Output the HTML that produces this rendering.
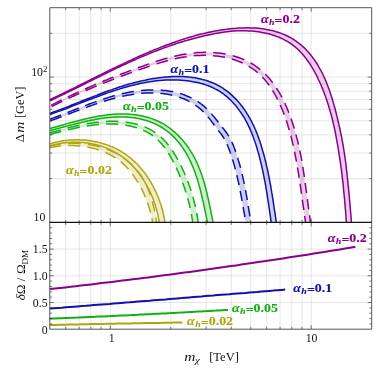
<!DOCTYPE html>
<html><head><meta charset="utf-8"><title>chart</title>
<style>html,body{margin:0;padding:0;background:#fff}svg{display:block;will-change:transform;transform:translateZ(0)}text{font-family:"Liberation Serif",serif}</style></head>
<body>
<svg width="382" height="372" viewBox="0 0 382 372">
<rect width="382" height="372" fill="#fff"/>
<defs><clipPath id="ct"><rect x="49.8" y="7.7" width="321.9" height="214.7"/></clipPath><clipPath id="cb"><rect x="49.8" y="222.4" width="321.9" height="106.8"/></clipPath></defs>
<path d="M65.71,7.7 V329.2 M79.16,7.7 V329.2 M90.81,7.7 V329.2 M101.09,7.7 V329.2 M170.77,7.7 V329.2 M206.15,7.7 V329.2 M231.26,7.7 V329.2 M250.73,7.7 V329.2 M266.64,7.7 V329.2 M280.09,7.7 V329.2 M291.74,7.7 V329.2 M302.02,7.7 V329.2 M110.29,7.7 V329.2 M311.21,7.7 V329.2 M49.8,178.65 H371.7 M49.8,153.05 H371.7 M49.8,134.89 H371.7 M49.8,120.8 H371.7 M49.8,109.3 H371.7 M49.8,99.56 H371.7 M49.8,91.14 H371.7 M49.8,83.7 H371.7 M49.8,77.05 H371.7 M49.8,33.29 H371.7 M49.8,302.5 H371.7 M49.8,275.8 H371.7 M49.8,249.1 H371.7" stroke="#cdcdcd" stroke-width="0.5" fill="none"/>
<g clip-path="url(#ct)" fill="none" stroke-linejoin="round">
<path d="M49.6,146.1L50.5,145.9L51.3,145.7L52.2,145.5L53,145.3L53.9,145.1L54.8,145L55.6,144.8L56.5,144.7L57.4,144.5L58.2,144.4L59.1,144.3L60,144.2L60.9,144L61.8,143.9L62.6,143.8L63.5,143.7L64.4,143.7L65.3,143.6L66.2,143.5L67.1,143.5L68,143.4L68.8,143.4L69.7,143.3L70.6,143.3L71.5,143.3L72.4,143.3L73.3,143.3L74.2,143.3L75.1,143.3L76,143.3L76.9,143.3L77.8,143.4L78.7,143.4L79.6,143.5L80.5,143.5L81.3,143.6L82.2,143.7L83.1,143.7L84,143.8L84.9,143.9L85.8,144L86.7,144.2L87.6,144.3L88.4,144.4L89.3,144.6L90.2,144.7L91.1,144.9L92,145L92.8,145.2L93.7,145.4L94.6,145.6L95.5,145.8L96.3,146L97.2,146.2L98,146.4L98.9,146.7L99.8,146.9L100.6,147.1L101.5,147.4L102.3,147.7L103.2,147.9L104,148.2L104.8,148.5L105.7,148.8L106.5,149.1L107.3,149.4L108.2,149.7L109,150.1L109.8,150.4L110.6,150.7L111.4,151.1L112.2,151.5L113,151.8L113.8,152.2L114.6,152.6L115.4,153L116.2,153.4L117,153.9L117.8,154.3L118.5,154.7L119.3,155.2L120.1,155.6L120.8,156.1L121.6,156.6L122.3,157.1L123,157.6L123.8,158.1L124.5,158.6L125.2,159.1L125.9,159.7L126.6,160.2L127.3,160.8L128,161.3L128.7,161.9L129.4,162.5L130,163.1L130.7,163.7L131.4,164.3L132,164.9L132.6,165.6L133.3,166.2L133.9,166.9L134.5,167.5L135.1,168.2L135.7,168.9L136.3,169.6L136.9,170.3L137.5,171L138,171.7L138.6,172.4L139.2,173.1L139.7,173.8L140.2,174.6L140.8,175.3L141.3,176.1L141.8,176.8L142.3,177.6L142.7,178.4L143.2,179.2L143.7,180L144.1,180.8L144.5,181.6L145,182.4L145.4,183.2L145.8,184L146.2,184.9L146.6,185.7L147,186.5L147.3,187.4L147.7,188.2L148.1,189L148.4,189.9L148.7,190.7L149.1,191.6L149.4,192.4L149.7,193.3L150,194.2L150.3,195L150.6,195.9L150.8,196.8L151.1,197.6L151.4,198.5L151.7,199.4L151.9,200.2L152.2,201.1L152.4,202L152.6,202.8L152.9,203.7L153.1,204.6L153.3,205.5L153.5,206.3L153.8,207.2L154,208.1L154.2,208.9L154.3,209.8L154.5,210.7L154.7,211.5L154.9,212.4L155.1,213.3L155.2,214.1L155.4,215L155.5,215.9L155.7,216.7L155.8,217.6L156,218.4L156.1,219.3L156.2,220.2L156.4,221L156.5,221.9L156.6,222.7L156.8,223.5L156.9,224.4L157,225.2L157.1,226L157.2,226.7L153.3,227.2L153.2,226.4L153.1,225.6L153,224.7L152.9,223.9L152.7,223.1L152.6,222.3L152.5,221.4L152.3,220.6L152.1,219.8L152,219L151.8,218.1L151.6,217.3L151.4,216.5L151.3,215.6L151.1,214.8L150.9,214L150.7,213.1L150.4,212.3L150.2,211.5L150,210.6L149.8,209.8L149.5,209L149.3,208.1L149,207.3L148.8,206.5L148.5,205.7L148.3,204.8L148,204L147.7,203.2L147.4,202.4L147.1,201.5L146.8,200.7L146.5,199.9L146.2,199.1L145.9,198.3L145.6,197.5L145.2,196.7L144.9,195.9L144.6,195.1L144.2,194.3L143.8,193.5L143.5,192.7L143.1,192L142.7,191.2L142.4,190.4L142,189.6L141.6,188.9L141.2,188.1L140.8,187.3L140.4,186.6L140,185.8L139.5,185.1L139.1,184.4L138.7,183.6L138.2,182.9L137.8,182.2L137.3,181.4L136.9,180.7L136.4,180L136,179.3L135.5,178.6L135.1,177.9L134.6,177.2L134.1,176.5L133.7,175.8L133.2,175.1L132.7,174.4L132.2,173.7L131.7,173L131.2,172.4L130.6,171.7L130.1,171.1L129.6,170.4L129,169.8L128.5,169.2L127.9,168.6L127.4,167.9L126.8,167.3L126.2,166.7L125.7,166.1L125.1,165.6L124.5,165L123.9,164.4L123.3,163.9L122.7,163.3L122,162.8L121.4,162.2L120.7,161.7L120.1,161.2L119.4,160.7L118.8,160.2L118.1,159.7L117.4,159.2L116.8,158.8L116.1,158.3L115.4,157.8L114.7,157.4L114,156.9L113.2,156.5L112.5,156.1L111.8,155.7L111.1,155.3L110.3,154.8L109.6,154.5L108.8,154.1L108.1,153.7L107.3,153.3L106.5,153L105.8,152.6L105,152.3L104.2,151.9L103.4,151.6L102.6,151.3L101.9,151L101.1,150.7L100.2,150.4L99.4,150.1L98.6,149.9L97.8,149.6L97,149.3L96.2,149.1L95.3,148.9L94.5,148.6L93.7,148.4L92.8,148.2L92,148L91.2,147.8L90.3,147.6L89.5,147.4L88.6,147.3L87.8,147.1L86.9,147L86.1,146.8L85.2,146.7L84.3,146.5L83.5,146.4L82.6,146.3L81.8,146.2L80.9,146.1L80,146L79.2,145.9L78.3,145.8L77.4,145.8L76.5,145.7L75.7,145.7L74.8,145.6L73.9,145.6L73.1,145.6L72.2,145.5L71.3,145.5L70.4,145.5L69.6,145.5L68.7,145.5L67.8,145.5L66.9,145.6L66.1,145.6L65.2,145.6L64.3,145.7L63.5,145.8L62.6,145.8L61.7,145.9L60.9,146L60,146.1L59.1,146.1L58.3,146.2L57.4,146.4L56.6,146.5L55.7,146.6L54.9,146.7L54,146.9L53.2,147L52.3,147.2L51.5,147.3L50.6,147.5L50,147.6Z" fill="#b0a70c" fill-opacity="0.2" stroke="none"/>
<path d="M49.4,144L50.3,143.7L51.2,143.4L52.1,143.2L53.1,142.9L54,142.7L54.9,142.5L55.8,142.3L56.7,142L57.7,141.8L58.6,141.7L59.5,141.5L60.4,141.3L61.4,141.1L62.3,141L63.2,140.8L64.2,140.7L65.1,140.6L66.1,140.5L67,140.4L67.9,140.3L68.9,140.2L69.8,140.1L70.8,140L71.7,140L72.6,139.9L73.6,139.9L74.5,139.8L75.5,139.8L76.4,139.8L77.4,139.8L78.3,139.8L79.2,139.8L80.2,139.9L81.1,139.9L82.1,139.9L83,140L83.9,140.1L84.9,140.1L85.8,140.2L86.8,140.3L87.7,140.4L88.6,140.5L89.5,140.6L90.5,140.8L91.4,140.9L92.3,141.1L93.2,141.2L94.2,141.4L95.1,141.6L96,141.8L96.9,142L97.8,142.2L98.7,142.4L99.6,142.6L100.5,142.9L101.4,143.1L102.3,143.4L103.2,143.6L104.1,143.9L105,144.2L105.9,144.5L106.8,144.8L107.6,145.1L108.5,145.4L109.4,145.8L110.2,146.1L111.1,146.4L112,146.8L112.8,147.2L113.7,147.6L114.5,148L115.3,148.4L116.2,148.8L117,149.2L117.8,149.6L118.6,150.1L119.5,150.5L120.3,151L121.1,151.4L121.9,151.9L122.6,152.4L123.4,152.9L124.2,153.4L125,153.9L125.7,154.5L126.5,155L127.3,155.6L128,156.1L128.7,156.7L129.5,157.3L130.2,157.8L130.9,158.4L131.6,159L132.3,159.7L133,160.3L133.7,160.9L134.4,161.5L135.1,162.2L135.8,162.8L136.4,163.5L137.1,164.2L137.8,164.8L138.4,165.5L139,166.2L139.7,166.9L140.3,167.6L140.9,168.3L141.5,169.1L142.1,169.8L142.7,170.5L143.3,171.3L143.9,172L144.5,172.8L145.1,173.5L145.6,174.3L146.2,175.1L146.7,175.8L147.3,176.6L147.8,177.4L148.3,178.2L148.8,179L149.3,179.8L149.8,180.6L150.3,181.4L150.8,182.3L151.3,183.1L151.8,183.9L152.3,184.8L152.7,185.6L153.2,186.4L153.6,187.3L154,188.1L154.5,189L154.9,189.8L155.3,190.7L155.7,191.6L156.1,192.4L156.5,193.3L156.9,194.2L157.3,195.1L157.6,196L158,196.8L158.4,197.7L158.7,198.6L159.1,199.5L159.4,200.4L159.7,201.3L160,202.2L160.3,203.1L160.6,204L160.9,204.9L161.2,205.8L161.5,206.7L161.8,207.7L162,208.6L162.3,209.5L162.5,210.4L162.8,211.3L163,212.2L163.2,213.2L163.4,214.1L163.7,215L163.9,215.9L164,216.8L164.2,217.8L164.4,218.7L164.6,219.6L164.7,220.5L164.9,221.4L165,222.4L165.2,223.3L165.3,224.2L165.4,225.1L165.5,226L165.6,226.7L159.9,227.3L159.8,226.5L159.7,225.6L159.6,224.7L159.5,223.9L159.4,223L159.2,222.1L159.1,221.2L158.9,220.4L158.8,219.5L158.6,218.6L158.5,217.7L158.3,216.8L158.1,216L157.9,215.1L157.7,214.2L157.5,213.3L157.3,212.5L157.1,211.6L156.9,210.7L156.6,209.8L156.4,209L156.1,208.1L155.9,207.2L155.6,206.4L155.3,205.5L155.1,204.6L154.8,203.8L154.5,202.9L154.2,202L153.9,201.2L153.6,200.3L153.3,199.5L152.9,198.6L152.6,197.8L152.3,196.9L151.9,196.1L151.6,195.2L151.2,194.4L150.8,193.6L150.4,192.7L150.1,191.9L149.7,191.1L149.3,190.2L148.9,189.4L148.5,188.6L148,187.8L147.6,187L147.2,186.2L146.8,185.4L146.3,184.6L145.9,183.8L145.4,183L144.9,182.2L144.5,181.5L144,180.7L143.5,179.9L143,179.2L142.5,178.4L142,177.7L141.5,176.9L141,176.2L140.5,175.4L139.9,174.7L139.4,174L138.9,173.3L138.3,172.6L137.8,171.9L137.2,171.2L136.6,170.5L136.1,169.8L135.5,169.1L134.9,168.4L134.3,167.7L133.7,167.1L133.1,166.4L132.5,165.8L131.9,165.1L131.2,164.5L130.6,163.9L130,163.3L129.3,162.7L128.7,162.1L128,161.5L127.4,160.9L126.7,160.3L126,159.7L125.3,159.2L124.6,158.6L123.9,158.1L123.2,157.5L122.5,157L121.8,156.5L121.1,156L120.4,155.5L119.6,155L118.9,154.5L118.2,154L117.4,153.5L116.7,153.1L115.9,152.6L115.1,152.2L114.3,151.8L113.6,151.4L112.8,151L112,150.6L111.2,150.2L110.4,149.8L109.6,149.4L108.8,149L107.9,148.7L107.1,148.3L106.3,148L105.5,147.7L104.6,147.4L103.8,147.1L102.9,146.8L102.1,146.5L101.2,146.2L100.4,145.9L99.5,145.7L98.6,145.4L97.8,145.2L96.9,145L96,144.7L95.1,144.5L94.3,144.3L93.4,144.1L92.5,144L91.6,143.8L90.7,143.6L89.8,143.5L88.9,143.3L88,143.2L87.1,143.1L86.2,142.9L85.3,142.8L84.4,142.7L83.5,142.6L82.6,142.6L81.7,142.5L80.8,142.4L79.8,142.4L78.9,142.3L78,142.3L77.1,142.3L76.2,142.3L75.3,142.3L74.3,142.3L73.4,142.3L72.5,142.3L71.6,142.3L70.7,142.4L69.7,142.4L68.8,142.5L67.9,142.6L67,142.6L66.1,142.7L65.2,142.8L64.2,142.9L63.3,143.1L62.4,143.2L61.5,143.3L60.6,143.5L59.7,143.6L58.8,143.8L57.9,144L56.9,144.1L56,144.3L55.1,144.5L54.2,144.8L53.3,145L52.5,145.2L51.6,145.5L50.7,145.7L50,145.9Z" fill="#b0a70c" fill-opacity="0.2" stroke="none"/>
<path d="M49.6,132.9L50.8,132.6L51.9,132.3L53,131.9L54.1,131.6L55.2,131.3L56.4,131L57.5,130.7L58.6,130.4L59.8,130.1L60.9,129.7L62.1,129.4L63.3,129.1L64.4,128.8L65.6,128.5L66.8,128.2L68,127.9L69.1,127.6L70.3,127.3L71.5,127L72.7,126.7L73.9,126.4L75.1,126.2L76.3,125.9L77.5,125.6L78.7,125.4L79.9,125.1L81.1,124.8L82.3,124.6L83.5,124.4L84.8,124.1L86,123.9L87.2,123.7L88.4,123.5L89.6,123.3L90.9,123.1L92.1,122.9L93.3,122.7L94.6,122.5L95.8,122.4L97,122.2L98.3,122.1L99.5,122L100.7,121.8L102,121.7L103.2,121.6L104.4,121.5L105.7,121.5L106.9,121.4L108.1,121.4L109.4,121.3L110.6,121.3L111.8,121.3L113.1,121.3L114.3,121.3L115.5,121.3L116.8,121.4L118,121.4L119.2,121.5L120.5,121.6L121.7,121.7L122.9,121.8L124.2,121.9L125.4,122.1L126.6,122.2L127.8,122.4L129,122.6L130.3,122.8L131.5,123.1L132.7,123.3L133.9,123.6L135.1,123.9L136.3,124.2L137.5,124.5L138.7,124.8L139.8,125.2L141,125.6L142.2,126L143.3,126.4L144.5,126.9L145.6,127.4L146.7,127.8L147.9,128.4L149,128.9L150.1,129.5L151.1,130L152.2,130.7L153.3,131.3L154.3,131.9L155.3,132.6L156.3,133.3L157.3,134.1L158.3,134.8L159.2,135.6L160.2,136.4L161.1,137.2L162,138.1L162.9,138.9L163.8,139.8L164.6,140.7L165.5,141.6L166.3,142.6L167.1,143.5L167.9,144.5L168.7,145.5L169.4,146.5L170.2,147.5L170.9,148.5L171.6,149.5L172.3,150.6L173,151.6L173.7,152.7L174.4,153.8L175,154.9L175.7,155.9L176.3,157L177,158.1L177.6,159.2L178.2,160.4L178.8,161.5L179.4,162.6L179.9,163.7L180.5,164.8L181.1,165.9L181.6,167.1L182.1,168.2L182.7,169.3L183.2,170.4L183.7,171.6L184.2,172.7L184.7,173.8L185.2,175L185.7,176.1L186.1,177.2L186.6,178.4L187.1,179.5L187.5,180.6L187.9,181.8L188.4,182.9L188.8,184.1L189.2,185.2L189.6,186.4L190,187.5L190.4,188.7L190.8,189.8L191.1,191L191.5,192.1L191.9,193.3L192.2,194.5L192.6,195.6L192.9,196.8L193.2,198L193.5,199.2L193.9,200.3L194.2,201.5L194.5,202.7L194.7,203.9L195,205.1L195.3,206.3L195.6,207.5L195.8,208.7L196.1,209.9L196.3,211.1L196.5,212.3L196.8,213.5L197,214.7L197.2,215.9L197.4,217.1L197.6,218.4L197.8,219.6L197.9,220.8L198.1,222.1L198.3,223.3L198.4,224.6L198.6,225.8L198.7,226.8L193.3,227.3L193.2,226.1L193,224.9L192.9,223.7L192.7,222.5L192.6,221.3L192.4,220.1L192.2,218.9L192,217.7L191.8,216.5L191.6,215.3L191.4,214.1L191.2,213L191,211.8L190.7,210.6L190.5,209.5L190.2,208.3L190,207.1L189.7,206L189.4,204.8L189.2,203.7L188.9,202.5L188.6,201.4L188.3,200.3L188,199.1L187.7,198L187.3,196.8L187,195.7L186.7,194.6L186.3,193.5L186,192.3L185.6,191.2L185.2,190.1L184.9,189L184.5,187.8L184.1,186.7L183.7,185.6L183.3,184.5L182.9,183.4L182.4,182.3L182,181.2L181.6,180.1L181.1,179L180.7,177.8L180.2,176.7L179.7,175.6L179.3,174.5L178.8,173.4L178.3,172.3L177.8,171.2L177.3,170.1L176.8,169L176.3,167.9L175.8,166.8L175.3,165.7L174.7,164.6L174.2,163.5L173.6,162.4L173.1,161.3L172.5,160.2L171.9,159.1L171.3,158.1L170.8,157L170.1,156L169.5,154.9L168.9,153.9L168.3,152.9L167.6,151.9L167,150.9L166.3,149.9L165.6,148.9L164.9,148L164.2,147L163.5,146.1L162.7,145.2L162,144.3L161.2,143.4L160.4,142.5L159.7,141.7L158.9,140.9L158,140.1L157.2,139.3L156.4,138.5L155.5,137.8L154.6,137.1L153.7,136.4L152.8,135.7L151.9,135L150.9,134.4L150,133.8L149,133.2L148,132.6L147,132.1L146,131.5L144.9,131L143.9,130.5L142.8,130.1L141.7,129.6L140.7,129.2L139.6,128.7L138.5,128.4L137.4,128L136.2,127.6L135.1,127.3L134,126.9L132.8,126.6L131.7,126.4L130.5,126.1L129.4,125.8L128.2,125.6L127,125.4L125.8,125.2L124.7,125L123.5,124.8L122.3,124.7L121.1,124.5L119.9,124.4L118.7,124.3L117.5,124.2L116.3,124.1L115.1,124.1L113.9,124L112.7,124L111.5,124L110.3,123.9L109.1,123.9L107.9,124L106.7,124L105.5,124L104.3,124.1L103.1,124.2L101.8,124.2L100.6,124.3L99.4,124.4L98.2,124.5L97,124.6L95.8,124.8L94.5,124.9L93.3,125.1L92.1,125.2L90.9,125.4L89.7,125.6L88.5,125.7L87.3,125.9L86.1,126.1L84.8,126.3L83.6,126.5L82.4,126.8L81.2,127L80,127.2L78.8,127.5L77.6,127.7L76.4,127.9L75.2,128.2L74,128.5L72.8,128.7L71.7,129L70.5,129.3L69.3,129.6L68.1,129.8L66.9,130.1L65.8,130.4L64.6,130.7L63.4,131L62.3,131.3L61.1,131.6L60,131.9L58.8,132.2L57.7,132.5L56.5,132.8L55.4,133.1L54.3,133.4L53.2,133.7L52,134L50.9,134.3L50.1,134.5Z" fill="#10b010" fill-opacity="0.2" stroke="none"/>
<path d="M49.6,128.4L50.9,128.1L52.1,127.8L53.3,127.5L54.5,127.1L55.8,126.8L57,126.5L58.3,126.1L59.5,125.8L60.8,125.4L62,125.1L63.3,124.7L64.5,124.4L65.8,124L67.1,123.7L68.4,123.3L69.6,123L70.9,122.6L72.2,122.3L73.5,121.9L74.8,121.6L76.1,121.3L77.4,120.9L78.7,120.6L80,120.3L81.3,119.9L82.6,119.6L83.9,119.3L85.2,119L86.5,118.7L87.9,118.4L89.2,118.1L90.5,117.8L91.8,117.5L93.2,117.2L94.5,116.9L95.8,116.7L97.2,116.4L98.5,116.2L99.8,116L101.2,115.8L102.5,115.5L103.9,115.4L105.2,115.2L106.6,115L107.9,114.8L109.2,114.7L110.6,114.5L112,114.4L113.3,114.3L114.7,114.2L116,114.1L117.4,114.1L118.7,114L120.1,114L121.4,114L122.8,114L124.2,114L125.5,114L126.9,114.1L128.2,114.1L129.6,114.2L130.9,114.3L132.3,114.5L133.6,114.6L135,114.8L136.3,114.9L137.7,115.1L139,115.4L140.3,115.6L141.7,115.9L143,116.1L144.3,116.5L145.6,116.8L146.9,117.1L148.2,117.5L149.5,117.9L150.7,118.3L152,118.7L153.3,119.2L154.5,119.7L155.8,120.2L157,120.7L158.2,121.3L159.4,121.8L160.6,122.4L161.8,123.1L163,123.7L164.1,124.4L165.2,125.1L166.4,125.8L167.5,126.6L168.6,127.3L169.7,128.1L170.7,128.9L171.8,129.8L172.8,130.6L173.9,131.5L174.9,132.4L175.9,133.3L176.9,134.2L177.8,135.1L178.8,136.1L179.7,137.1L180.7,138.1L181.6,139.1L182.5,140.1L183.4,141.1L184.2,142.2L185.1,143.3L185.9,144.3L186.8,145.4L187.6,146.6L188.4,147.7L189.1,148.8L189.9,150L190.7,151.1L191.4,152.3L192.1,153.5L192.8,154.7L193.5,155.9L194.1,157.1L194.8,158.3L195.4,159.6L196,160.8L196.6,162L197.2,163.3L197.8,164.6L198.3,165.8L198.8,167.1L199.4,168.4L199.9,169.7L200.4,171L200.8,172.3L201.3,173.6L201.8,174.9L202.2,176.2L202.6,177.5L203,178.8L203.4,180.2L203.8,181.5L204.2,182.8L204.6,184.1L204.9,185.5L205.3,186.8L205.7,188.1L206,189.5L206.3,190.8L206.7,192.1L207,193.4L207.3,194.8L207.6,196.1L207.9,197.4L208.2,198.7L208.5,200.1L208.8,201.4L209.1,202.7L209.3,204L209.6,205.3L209.9,206.6L210.1,207.9L210.4,209.2L210.7,210.5L210.9,211.7L211.2,213L211.4,214.3L211.7,215.5L211.9,216.8L212.2,218L212.5,219.3L212.7,220.5L213,221.7L213.2,222.9L213.5,224.1L213.7,225.3L213.9,226.2L208.6,227.4L208.3,226.2L208,225L207.8,223.8L207.5,222.6L207.3,221.3L207,220.1L206.7,218.8L206.5,217.6L206.2,216.3L205.9,215.1L205.7,213.8L205.4,212.5L205.2,211.3L204.9,210L204.6,208.7L204.3,207.4L204.1,206.1L203.8,204.8L203.5,203.5L203.2,202.2L203,200.9L202.7,199.6L202.4,198.3L202.1,197L201.8,195.7L201.5,194.4L201.1,193.1L200.8,191.8L200.5,190.5L200.2,189.2L199.8,187.9L199.5,186.6L199.1,185.3L198.7,184L198.4,182.7L198,181.5L197.6,180.2L197.2,178.9L196.8,177.6L196.3,176.4L195.9,175.1L195.5,173.8L195,172.6L194.6,171.3L194.1,170.1L193.6,168.8L193.1,167.6L192.6,166.4L192.1,165.2L191.6,164L191.1,162.7L190.5,161.5L190,160.4L189.4,159.2L188.8,158L188.2,156.8L187.6,155.7L186.9,154.5L186.3,153.4L185.6,152.3L184.9,151.2L184.2,150.1L183.5,149L182.8,147.9L182,146.8L181.3,145.8L180.5,144.7L179.7,143.7L178.9,142.7L178.1,141.7L177.2,140.7L176.4,139.7L175.5,138.8L174.6,137.9L173.7,136.9L172.8,136L171.9,135.2L170.9,134.3L170,133.5L169,132.6L168,131.8L167,131.1L166,130.3L165,129.6L164,128.8L162.9,128.1L161.9,127.5L160.8,126.8L159.7,126.2L158.6,125.6L157.5,125L156.3,124.4L155.2,123.9L154,123.3L152.9,122.8L151.7,122.4L150.5,121.9L149.3,121.5L148.1,121.1L146.9,120.7L145.7,120.3L144.4,120L143.2,119.6L141.9,119.3L140.6,119L139.4,118.8L138.1,118.5L136.8,118.3L135.5,118.1L134.2,117.9L132.9,117.7L131.6,117.6L130.3,117.4L129,117.3L127.7,117.2L126.4,117.1L125.1,117.1L123.8,117L122.4,117L121.1,117L119.8,117L118.5,117L117.1,117L115.8,117.1L114.5,117.1L113.2,117.2L111.8,117.3L110.5,117.4L109.2,117.5L107.9,117.7L106.6,117.8L105.2,118L103.9,118.1L102.6,118.3L101.3,118.5L99.9,118.7L98.6,118.9L97.3,119.1L96,119.4L94.7,119.6L93.3,119.9L92,120.1L90.7,120.4L89.4,120.6L88.1,120.9L86.8,121.2L85.5,121.5L84.2,121.8L82.9,122.1L81.6,122.4L80.3,122.7L79,123L77.7,123.4L76.4,123.7L75.1,124L73.8,124.4L72.5,124.7L71.2,125L69.9,125.4L68.7,125.7L67.4,126L66.1,126.4L64.8,126.7L63.6,127.1L62.3,127.4L61,127.7L59.8,128.1L58.5,128.4L57.3,128.7L56,129.1L54.8,129.4L53.6,129.7L52.3,130L51.1,130.3L50.2,130.6Z" fill="#10b010" fill-opacity="0.2" stroke="none"/>
<path d="M49.6,119.3L51.1,118.7L52.6,118.2L54.1,117.6L55.7,117L57.2,116.5L58.7,115.9L60.3,115.3L61.8,114.7L63.3,114.1L64.9,113.5L66.4,112.9L68,112.3L69.5,111.7L71.1,111.1L72.7,110.5L74.2,109.9L75.8,109.2L77.3,108.6L78.9,108L80.5,107.4L82.1,106.8L83.6,106.2L85.2,105.6L86.8,105L88.4,104.4L89.9,103.8L91.5,103.2L93.1,102.6L94.7,102.1L96.3,101.5L97.9,100.9L99.5,100.4L101.1,99.8L102.7,99.3L104.3,98.8L105.9,98.2L107.6,97.7L109.2,97.2L110.8,96.8L112.4,96.3L114,95.8L115.7,95.4L117.3,94.9L118.9,94.5L120.6,94.1L122.2,93.7L123.8,93.3L125.5,93L127.1,92.6L128.8,92.3L130.4,92L132.1,91.7L133.8,91.4L135.4,91.2L137.1,91L138.8,90.8L140.4,90.6L142.1,90.4L143.8,90.3L145.5,90.1L147.2,90L148.8,90L150.5,89.9L152.2,89.9L153.9,89.9L155.6,89.9L157.3,90L159,90L160.7,90.1L162.4,90.3L164.1,90.4L165.8,90.6L167.5,90.8L169.1,91.1L170.8,91.4L172.5,91.7L174.1,92L175.8,92.4L177.4,92.8L179.1,93.3L180.7,93.7L182.3,94.3L183.9,94.8L185.5,95.4L187.1,96L188.6,96.7L190.2,97.4L191.7,98.1L193.2,98.9L194.7,99.7L196.1,100.6L197.6,101.5L199,102.5L200.4,103.4L201.8,104.5L203.2,105.6L204.5,106.7L205.8,107.9L207.1,109.1L208.3,110.3L209.5,111.6L210.7,112.9L211.9,114.2L213,115.6L214.1,116.9L215.2,118.3L216.3,119.6L217.4,121L218.5,122.4L219.5,123.7L220.5,125L221.6,126.4L222.6,127.6L223.6,128.9L224.7,130.2L225.7,131.6L226.7,132.9L227.6,134.4L228.5,135.8L229.4,137.3L230.2,138.8L231,140.3L231.8,141.9L232.5,143.4L233.1,145L233.8,146.6L234.4,148.2L235,149.8L235.6,151.4L236.1,153L236.6,154.6L237.2,156.2L237.7,157.8L238.2,159.5L238.7,161.1L239.1,162.7L239.6,164.3L240,166L240.5,167.6L240.9,169.3L241.3,170.9L241.7,172.6L242.1,174.2L242.5,175.9L242.9,177.5L243.3,179.2L243.6,180.8L244,182.5L244.3,184.1L244.7,185.8L245,187.5L245.3,189.1L245.6,190.8L245.9,192.4L246.2,194.1L246.5,195.8L246.8,197.4L247.1,199.1L247.4,200.7L247.7,202.4L247.9,204L248.2,205.7L248.5,207.3L248.7,209L249,210.6L249.3,212.3L249.5,213.9L249.8,215.6L250,217.2L250.3,218.8L250.5,220.5L250.8,222.1L251,223.7L251.3,225.3L251.5,226.6L246.6,227.4L246.3,225.7L246,224.1L245.8,222.5L245.5,220.9L245.2,219.2L244.9,217.6L244.7,216L244.4,214.3L244.1,212.7L243.8,211.1L243.6,209.4L243.3,207.8L243,206.1L242.7,204.5L242.4,202.9L242.1,201.2L241.8,199.6L241.5,197.9L241.2,196.3L240.9,194.6L240.6,193L240.3,191.4L240,189.7L239.7,188.1L239.3,186.5L239,184.8L238.6,183.2L238.3,181.6L237.9,179.9L237.6,178.3L237.2,176.7L236.8,175.1L236.4,173.4L236,171.8L235.6,170.2L235.2,168.6L234.7,167L234.3,165.4L233.8,163.8L233.4,162.2L232.9,160.6L232.4,159L231.9,157.5L231.4,155.9L230.9,154.3L230.3,152.8L229.8,151.2L229.2,149.7L228.6,148.1L228,146.6L227.4,145.2L226.8,143.7L226.1,142.3L225.4,140.9L224.6,139.5L223.9,138.2L223,136.9L222.2,135.6L221.3,134.3L220.3,133L219.3,131.8L218.3,130.5L217.3,129.1L216.3,127.8L215.3,126.4L214.2,125L213.2,123.7L212.2,122.3L211.2,120.9L210.1,119.6L209,118.3L208,116.9L206.9,115.7L205.8,114.4L204.7,113.2L203.5,112L202.4,110.9L201.2,109.7L200,108.7L198.8,107.7L197.5,106.7L196.2,105.7L194.9,104.8L193.6,103.9L192.2,103.1L190.9,102.3L189.5,101.5L188,100.8L186.6,100.1L185.2,99.5L183.7,98.8L182.2,98.2L180.7,97.7L179.2,97.2L177.6,96.7L176.1,96.2L174.5,95.8L173,95.4L171.4,95L169.8,94.7L168.2,94.4L166.6,94.1L164.9,93.9L163.3,93.6L161.7,93.5L160,93.3L158.4,93.2L156.8,93.1L155.1,93L153.5,92.9L151.8,92.9L150.2,92.9L148.5,92.9L146.9,93L145.2,93.1L143.6,93.2L141.9,93.3L140.3,93.4L138.7,93.6L137,93.8L135.4,94L133.8,94.2L132.1,94.5L130.5,94.7L128.9,95L127.2,95.3L125.6,95.6L124,96L122.4,96.3L120.7,96.7L119.1,97L117.5,97.4L115.9,97.9L114.3,98.3L112.7,98.7L111.1,99.2L109.4,99.6L107.8,100.1L106.2,100.6L104.6,101.1L103,101.6L101.4,102.1L99.8,102.6L98.2,103.2L96.6,103.7L95,104.2L93.4,104.8L91.9,105.4L90.3,105.9L88.7,106.5L87.1,107.1L85.5,107.7L83.9,108.2L82.4,108.8L80.8,109.4L79.2,110L77.7,110.6L76.1,111.2L74.5,111.8L73,112.4L71.4,113L69.8,113.6L68.3,114.2L66.7,114.8L65.2,115.4L63.6,115.9L62.1,116.5L60.5,117.1L59,117.7L57.4,118.2L55.9,118.8L54.3,119.4L52.8,119.9L51.3,120.5L50.1,120.9Z" fill="#1010aa" fill-opacity="0.2" stroke="none"/>
<path d="M49.6,113.4L51.4,112.8L53.1,112.2L54.9,111.5L56.6,110.9L58.4,110.3L60.1,109.6L61.9,108.9L63.6,108.3L65.4,107.6L67.1,106.9L68.9,106.2L70.6,105.5L72.4,104.8L74.1,104.1L75.9,103.4L77.6,102.7L79.4,102L81.2,101.3L82.9,100.6L84.7,99.9L86.5,99.2L88.2,98.5L90,97.8L91.8,97.1L93.6,96.4L95.3,95.7L97.1,95.1L98.9,94.4L100.7,93.7L102.5,93L104.3,92.3L106,91.7L107.8,91L109.6,90.4L111.4,89.7L113.2,89.1L115,88.5L116.9,87.9L118.7,87.3L120.5,86.7L122.3,86.1L124.1,85.5L126,85L127.8,84.5L129.6,83.9L131.4,83.4L133.3,82.9L135.1,82.4L137,82L138.8,81.5L140.7,81.1L142.5,80.7L144.4,80.3L146.3,79.9L148.1,79.5L150,79.2L151.9,78.8L153.8,78.5L155.7,78.2L157.6,78L159.5,77.7L161.4,77.5L163.3,77.3L165.2,77.1L167.1,76.9L169,76.8L171,76.7L172.9,76.6L174.8,76.5L176.8,76.5L178.7,76.5L180.7,76.5L182.6,76.6L184.6,76.7L186.5,76.8L188.4,77L190.4,77.2L192.3,77.4L194.2,77.7L196.1,78L198,78.4L199.9,78.8L201.8,79.2L203.7,79.7L205.5,80.3L207.3,80.8L209.1,81.5L210.9,82.1L212.7,82.8L214.5,83.6L216.2,84.4L217.9,85.3L219.6,86.2L221.2,87.2L222.9,88.2L224.4,89.3L226,90.4L227.5,91.5L229,92.7L230.5,94L231.9,95.2L233.3,96.6L234.7,97.9L236.1,99.3L237.4,100.7L238.7,102.2L239.9,103.7L241.1,105.2L242.3,106.7L243.5,108.3L244.6,109.9L245.7,111.5L246.8,113.2L247.8,114.8L248.8,116.5L249.8,118.2L250.7,119.9L251.6,121.7L252.5,123.4L253.4,125.2L254.2,126.9L255,128.7L255.8,130.5L256.5,132.3L257.2,134.1L257.9,135.9L258.6,137.8L259.2,139.6L259.9,141.4L260.5,143.3L261,145.1L261.6,147L262.2,148.8L262.7,150.7L263.2,152.5L263.7,154.4L264.2,156.2L264.7,158.1L265.2,159.9L265.6,161.8L266.1,163.6L266.5,165.5L266.9,167.3L267.4,169.2L267.8,171L268.2,172.9L268.5,174.7L268.9,176.6L269.3,178.4L269.6,180.3L270,182.2L270.3,184L270.7,185.9L271,187.7L271.3,189.6L271.6,191.5L271.9,193.3L272.2,195.2L272.5,197.1L272.8,198.9L273.1,200.8L273.4,202.7L273.7,204.5L274,206.4L274.2,208.3L274.5,210.2L274.8,212L275.1,213.9L275.3,215.8L275.6,217.7L275.9,219.6L276.1,221.4L276.4,223.3L276.7,225.2L276.9,226.6L271.9,227.4L271.7,225.5L271.4,223.6L271.1,221.7L270.9,219.8L270.6,217.9L270.3,216L270,214.2L269.8,212.3L269.5,210.4L269.2,208.5L269,206.7L268.7,204.8L268.4,202.9L268.1,201.1L267.8,199.2L267.5,197.4L267.3,195.5L267,193.7L266.7,191.8L266.3,190L266,188.1L265.7,186.3L265.4,184.4L265.1,182.6L264.7,180.7L264.4,178.9L264,177.1L263.6,175.2L263.3,173.4L262.9,171.6L262.5,169.7L262.1,167.9L261.7,166.1L261.3,164.3L260.8,162.4L260.4,160.6L259.9,158.8L259.4,157L259,155.2L258.5,153.3L258,151.5L257.4,149.7L256.9,147.9L256.3,146.1L255.8,144.3L255.2,142.5L254.6,140.7L253.9,138.9L253.3,137.1L252.6,135.4L251.9,133.6L251.2,131.9L250.5,130.2L249.7,128.4L248.9,126.7L248.1,125L247.3,123.4L246.4,121.7L245.5,120.1L244.6,118.4L243.6,116.8L242.6,115.2L241.6,113.7L240.6,112.1L239.5,110.6L238.4,109.1L237.3,107.6L236.1,106.2L234.9,104.8L233.7,103.4L232.4,102.1L231.2,100.8L229.9,99.5L228.6,98.2L227.2,97L225.8,95.9L224.4,94.8L223,93.7L221.5,92.7L220.1,91.7L218.5,90.7L217,89.8L215.4,89L213.9,88.2L212.2,87.4L210.6,86.7L208.9,86L207.2,85.4L205.5,84.8L203.8,84.2L202.1,83.7L200.3,83.2L198.5,82.8L196.7,82.4L194.9,82L193.1,81.7L191.2,81.4L189.4,81.1L187.5,80.8L185.7,80.6L183.8,80.4L181.9,80.3L180,80.2L178.1,80.1L176.3,80L174.4,79.9L172.5,79.9L170.6,79.9L168.7,80L166.8,80L164.9,80.1L163,80.2L161.2,80.4L159.3,80.5L157.4,80.7L155.6,80.9L153.7,81.2L151.8,81.4L150,81.7L148.1,82L146.3,82.3L144.4,82.7L142.6,83L140.7,83.4L138.9,83.8L137,84.2L135.2,84.7L133.4,85.1L131.5,85.6L129.7,86.1L127.9,86.5L126.1,87.1L124.2,87.6L122.4,88.1L120.6,88.6L118.8,89.2L117,89.8L115.2,90.4L113.4,90.9L111.6,91.5L109.7,92.1L107.9,92.8L106.2,93.4L104.4,94L102.6,94.7L100.8,95.3L99,96L97.2,96.6L95.4,97.3L93.6,98L91.8,98.6L90.1,99.3L88.3,100L86.5,100.7L84.7,101.3L83,102L81.2,102.7L79.4,103.4L77.7,104.1L75.9,104.8L74.1,105.5L72.4,106.1L70.6,106.8L68.8,107.5L67.1,108.2L65.3,108.8L63.6,109.5L61.8,110.2L60.1,110.8L58.3,111.5L56.6,112.1L54.8,112.7L53.1,113.4L51.3,114L50,114.5Z" fill="#1010aa" fill-opacity="0.2" stroke="none"/>
<path d="M49.5,106.2L51.5,105.1L53.5,104.1L55.5,103.1L57.5,102L59.5,101L61.5,100L63.5,99L65.5,98.1L67.5,97.1L69.5,96.1L71.6,95.2L73.6,94.2L75.6,93.3L77.6,92.3L79.7,91.4L81.7,90.5L83.7,89.6L85.8,88.7L87.8,87.8L89.9,86.9L91.9,86L93.9,85.1L96,84.2L98,83.4L100.1,82.5L102.2,81.7L104.2,80.8L106.3,80L108.3,79.1L110.4,78.3L112.5,77.5L114.5,76.7L116.6,75.9L118.7,75L120.8,74.2L122.8,73.4L124.9,72.7L127,71.9L129.1,71.1L131.2,70.3L133.3,69.5L135.4,68.8L137.5,68L139.6,67.2L141.7,66.5L143.8,65.7L145.9,65L148,64.2L150.1,63.5L152.2,62.8L154.4,62L156.5,61.3L158.6,60.7L160.8,60L162.9,59.3L165.1,58.7L167.2,58.1L169.4,57.5L171.6,56.9L173.8,56.4L175.9,55.9L178.1,55.4L180.4,54.9L182.6,54.5L184.8,54.1L187,53.8L189.3,53.4L191.5,53.2L193.8,52.9L196.1,52.7L198.3,52.5L200.6,52.4L202.9,52.3L205.2,52.3L207.5,52.3L209.8,52.4L212.1,52.5L214.4,52.6L216.6,52.8L218.9,53.1L221.2,53.4L223.4,53.7L225.7,54.1L227.9,54.5L230.1,55L232.3,55.6L234.5,56.2L236.6,56.9L238.7,57.6L240.8,58.4L242.9,59.2L245,60.1L247,61L249,62.1L251,63.1L252.9,64.3L254.8,65.5L256.6,66.8L258.4,68.1L260.2,69.5L261.9,71L263.6,72.5L265.3,74.1L266.9,75.7L268.4,77.4L269.9,79.2L271.3,81L272.8,82.8L274.1,84.7L275.4,86.6L276.7,88.5L278,90.4L279.1,92.4L280.3,94.4L281.4,96.4L282.5,98.5L283.5,100.5L284.5,102.6L285.5,104.7L286.4,106.8L287.3,108.9L288.2,111L289,113.1L289.8,115.2L290.6,117.4L291.3,119.5L292.1,121.7L292.8,123.8L293.5,126L294.1,128.1L294.8,130.3L295.4,132.5L296,134.6L296.6,136.8L297.1,139L297.7,141.1L298.2,143.3L298.7,145.5L299.2,147.7L299.6,149.9L300.1,152.1L300.5,154.3L301,156.5L301.4,158.7L301.8,160.9L302.1,163.1L302.5,165.3L302.9,167.5L303.2,169.7L303.6,171.9L303.9,174.1L304.2,176.3L304.5,178.5L304.9,180.7L305.2,182.9L305.5,185.1L305.8,187.4L306.1,189.6L306.4,191.8L306.7,194L306.9,196.2L307.2,198.4L307.5,200.6L307.8,202.9L308.1,205.1L308.4,207.3L308.7,209.5L309,211.7L309.3,213.9L309.6,216.1L309.9,218.3L310.3,220.6L310.6,222.8L310.9,225L311.2,226.6L306.4,227.4L306,225.2L305.7,222.9L305.3,220.7L305,218.5L304.7,216.3L304.3,214.1L304,211.8L303.7,209.6L303.4,207.4L303.1,205.2L302.8,203L302.5,200.8L302.2,198.5L301.9,196.3L301.6,194.1L301.2,191.9L300.9,189.7L300.6,187.5L300.3,185.3L300,183.1L299.6,180.9L299.3,178.7L299,176.5L298.6,174.3L298.3,172.2L297.9,170L297.5,167.8L297.2,165.6L296.8,163.4L296.4,161.3L296,159.1L295.6,156.9L295.1,154.8L294.7,152.6L294.3,150.5L293.8,148.3L293.3,146.1L292.8,144L292.3,141.9L291.8,139.7L291.3,137.6L290.7,135.4L290.2,133.3L289.6,131.2L289,129.1L288.3,127L287.7,124.8L287,122.7L286.3,120.6L285.6,118.5L284.9,116.4L284.1,114.4L283.3,112.3L282.5,110.2L281.7,108.2L280.8,106.1L279.9,104.1L278.9,102.1L278,100.1L277,98.1L275.9,96.2L274.9,94.3L273.7,92.3L272.6,90.5L271.4,88.6L270.1,86.8L268.9,85L267.6,83.2L266.2,81.5L264.8,79.8L263.4,78.2L261.9,76.6L260.4,75.1L258.8,73.7L257.2,72.3L255.6,70.9L253.9,69.6L252.2,68.4L250.4,67.3L248.6,66.2L246.7,65.1L244.9,64.1L242.9,63.2L241,62.3L239,61.5L237,60.7L235,60L232.9,59.4L230.9,58.7L228.7,58.2L226.6,57.7L224.5,57.2L222.3,56.8L220.2,56.5L218,56.2L215.8,55.9L213.6,55.7L211.3,55.5L209.1,55.4L206.9,55.3L204.7,55.3L202.4,55.3L200.2,55.4L198,55.5L195.7,55.6L193.5,55.8L191.3,56L189.1,56.3L186.9,56.6L184.7,56.9L182.5,57.3L180.3,57.7L178.1,58.1L176,58.6L173.8,59.1L171.7,59.6L169.5,60.2L167.4,60.7L165.2,61.3L163.1,61.9L161,62.5L158.8,63.2L156.7,63.9L154.6,64.5L152.5,65.2L150.3,65.9L148.2,66.6L146.1,67.4L144,68.1L141.9,68.8L139.8,69.6L137.7,70.3L135.6,71.1L133.5,71.8L131.4,72.6L129.3,73.3L127.2,74.1L125.2,74.9L123.1,75.6L121,76.4L118.9,77.2L116.8,78L114.8,78.8L112.7,79.6L110.6,80.4L108.6,81.2L106.5,82L104.4,82.8L102.4,83.7L100.3,84.5L98.3,85.3L96.2,86.2L94.1,87L92.1,87.9L90.1,88.8L88,89.6L86,90.5L83.9,91.4L81.9,92.3L79.9,93.2L77.8,94.1L75.8,95L73.8,95.9L71.7,96.9L69.7,97.8L67.7,98.8L65.7,99.7L63.7,100.7L61.7,101.6L59.6,102.6L57.6,103.6L55.6,104.6L53.6,105.6L51.6,106.6L50.1,107.4Z" fill="#8b008b" fill-opacity="0.2" stroke="none"/>
<path d="M49.5,99.8L51.9,98.7L54.3,97.6L56.7,96.4L59,95.3L61.4,94.2L63.8,93L66.1,91.8L68.5,90.7L70.9,89.5L73.2,88.4L75.6,87.2L77.9,86L80.3,84.9L82.6,83.7L85,82.5L87.3,81.3L89.7,80.2L92,79L94.4,77.8L96.7,76.6L99.1,75.5L101.4,74.3L103.8,73.1L106.2,72L108.5,70.8L110.9,69.7L113.2,68.5L115.6,67.4L117.9,66.2L120.3,65.1L122.7,64L125,62.8L127.4,61.7L129.8,60.6L132.2,59.5L134.5,58.4L136.9,57.3L139.3,56.3L141.7,55.2L144.1,54.2L146.5,53.1L148.9,52.1L151.3,51.1L153.7,50.1L156.2,49.1L158.6,48.1L161,47.2L163.5,46.2L165.9,45.3L168.4,44.4L170.8,43.5L173.3,42.6L175.8,41.7L178.3,40.9L180.7,40L183.2,39.2L185.8,38.4L188.3,37.7L190.8,36.9L193.3,36.2L195.9,35.5L198.4,34.8L201,34.1L203.6,33.5L206.2,32.9L208.8,32.3L211.4,31.8L214,31.3L216.6,30.8L219.3,30.3L221.9,29.9L224.5,29.5L227.2,29.2L229.8,28.9L232.5,28.6L235.2,28.4L237.8,28.2L240.5,28L243.1,27.9L245.8,27.8L248.4,27.8L251.1,27.9L253.8,28L256.4,28.1L259.1,28.4L261.7,28.7L264.4,29L267,29.5L269.6,30L272.2,30.6L274.8,31.3L277.4,32.1L280,32.9L282.5,33.9L285,34.9L287.4,36L289.8,37.3L292.1,38.6L294.4,40L296.6,41.5L298.7,43.1L300.8,44.8L302.8,46.5L304.7,48.3L306.6,50.3L308.4,52.2L310.1,54.3L311.8,56.4L313.4,58.5L315,60.8L316.5,63L317.9,65.3L319.3,67.7L320.6,70L321.9,72.5L323.1,74.9L324.3,77.4L325.4,79.8L326.4,82.3L327.4,84.9L328.4,87.4L329.3,89.9L330.2,92.5L331,95L331.8,97.6L332.6,100.1L333.3,102.7L334.1,105.3L334.8,107.8L335.4,110.4L336.1,113L336.7,115.5L337.4,118.1L338,120.7L338.6,123.2L339.2,125.8L339.8,128.4L340.3,130.9L340.8,133.5L341.4,136.1L341.9,138.7L342.4,141.3L342.8,143.8L343.3,146.4L343.7,149L344.1,151.6L344.5,154.2L344.9,156.8L345.3,159.4L345.6,162L345.9,164.6L346.2,167.2L346.5,169.8L346.8,172.4L347.1,175L347.4,177.6L347.7,180.3L348,182.9L348.2,185.5L348.5,188.1L348.7,190.7L349,193.3L349.2,196L349.5,198.6L349.7,201.2L349.9,203.8L350.2,206.4L350.4,209.1L350.6,211.7L350.8,214.3L351,217L351.2,219.6L351.4,222.2L351.6,224.9L351.8,226.8L346.8,227.2L346.6,224.6L346.4,222L346.2,219.3L346,216.7L345.8,214.1L345.6,211.5L345.3,208.8L345.1,206.2L344.9,203.6L344.7,201L344.4,198.4L344.2,195.8L344,193.2L343.7,190.5L343.5,187.9L343.2,185.3L342.9,182.7L342.6,180.1L342.3,177.6L342,175L341.7,172.4L341.4,169.8L341,167.2L340.6,164.6L340.3,162.1L339.9,159.5L339.5,156.9L339.1,154.4L338.7,151.8L338.3,149.2L337.9,146.7L337.4,144.1L337,141.6L336.5,139L336,136.5L335.6,133.9L335,131.4L334.5,128.8L334,126.3L333.4,123.8L332.8,121.2L332.2,118.7L331.5,116.2L330.8,113.7L330.1,111.2L329.4,108.7L328.6,106.2L327.9,103.7L327.1,101.2L326.2,98.7L325.4,96.2L324.5,93.8L323.5,91.4L322.6,88.9L321.6,86.5L320.5,84.1L319.5,81.7L318.4,79.4L317.2,77L316.1,74.7L314.9,72.4L313.6,70.1L312.3,67.9L311,65.7L309.6,63.6L308.2,61.5L306.7,59.4L305.2,57.5L303.6,55.5L302,53.6L300.3,51.8L298.6,50.1L296.8,48.4L294.9,46.8L293,45.3L291,43.8L289,42.5L286.9,41.2L284.7,40L282.4,38.9L280.1,37.8L277.8,36.9L275.4,36L273,35.2L270.5,34.5L268.1,33.8L265.6,33.2L263.1,32.7L260.5,32.2L258,31.8L255.4,31.5L252.9,31.2L250.3,31L247.7,30.8L245.1,30.7L242.5,30.7L239.9,30.7L237.3,30.8L234.7,31L232.1,31.2L229.5,31.4L226.8,31.7L224.2,32.1L221.6,32.5L219,32.9L216.4,33.4L213.8,33.9L211.2,34.4L208.6,34.9L206.1,35.5L203.5,36.1L201,36.7L198.4,37.3L195.9,38L193.3,38.6L190.8,39.3L188.3,40L185.8,40.8L183.3,41.5L180.8,42.3L178.3,43L175.8,43.8L173.3,44.7L170.8,45.5L168.4,46.4L165.9,47.2L163.5,48.1L161,49L158.6,50L156.2,50.9L153.7,51.9L151.3,52.8L148.9,53.8L146.5,54.8L144.1,55.8L141.7,56.8L139.3,57.9L136.9,58.9L134.5,60L132.1,61L129.7,62.1L127.4,63.2L125,64.3L122.6,65.4L120.2,66.5L117.9,67.6L115.5,68.7L113.1,69.9L110.8,71L108.4,72.1L106.1,73.3L103.7,74.5L101.4,75.6L99,76.8L96.7,77.9L94.3,79.1L92,80.3L89.6,81.5L87.2,82.6L84.9,83.8L82.5,85L80.2,86.1L77.8,87.3L75.5,88.5L73.1,89.6L70.8,90.8L68.4,92L66,93.1L63.7,94.3L61.3,95.4L58.9,96.6L56.5,97.7L54.2,98.8L51.8,100L50,100.8Z" fill="#8b008b" fill-opacity="0.2" stroke="none"/>
<path d="M49.6,146.1L49.9,146L50.5,145.9L51.1,145.7L51.8,145.6L52.4,145.4L53,145.3L53.7,145.2L54.3,145.1L55,144.9L55.6,144.8L56.3,144.7L56.9,144.6L57.6,144.5L58.2,144.4L58.9,144.3L59.6,144.2L60.2,144.1L60.9,144L60.9,144 M68.1,143.4L68.2,143.4L68.8,143.4L69.5,143.3L70.2,143.3L70.8,143.3L71.5,143.3L72.2,143.3L72.9,143.3L73.5,143.3L74.2,143.3L74.9,143.3L75.5,143.3L76.2,143.3L76.9,143.3L77.6,143.4L78.2,143.4L78.9,143.4L79.6,143.5L80.2,143.5L80.6,143.5 M87.8,144.3L87.8,144.3L88.4,144.4L89.1,144.5L89.8,144.6L90.4,144.8L91.1,144.9L91.7,145L92.4,145.1L93.1,145.3L93.7,145.4L94.4,145.5L95,145.7L95.7,145.8L96.3,146L97,146.1L97.6,146.3L98.3,146.5L98.9,146.7L99.5,146.8L99.9,146.9 M106.7,149.2L106.7,149.2L107.3,149.4L108,149.6L108.6,149.9L109.2,150.1L109.8,150.4L110.4,150.7L111,150.9L111.6,151.2L112.2,151.5L112.8,151.7L113.4,152L114,152.3L114.6,152.6L115.2,152.9L115.8,153.2L116.4,153.5L117,153.9L117.6,154.2L117.7,154.2 M123.6,157.9L123.6,158L124.1,158.3L124.7,158.7L125.2,159.1L125.7,159.5L126.3,159.9L126.8,160.3L127.3,160.8L127.8,161.2L128.4,161.6L128.9,162.1L129.4,162.5L129.9,162.9L130.4,163.4L130.9,163.9L131.4,164.3L131.8,164.8L132.3,165.3L132.5,165.4 M137,170.4L137,170.4L137.5,171L137.9,171.5L138.3,172L138.7,172.6L139.2,173.1L139.6,173.7L140,174.2L140.4,174.8L140.8,175.3L141.2,175.9L141.5,176.5L141.9,177L142.3,177.6L142.6,178.2L143,178.8L143.3,179.4L143.4,179.6 M146.4,185.3L146.4,185.3L146.7,185.9L147,186.5L147.2,187.1L147.5,187.8L147.8,188.4L148.1,189L148.3,189.7L148.6,190.3L148.8,190.9L149.1,191.6L149.3,192.2L149.5,192.9L149.8,193.5L150,194.2L150.2,194.8L150.4,195.3 M152.2,201.3L152.2,201.3L152.4,202L152.6,202.6L152.8,203.3L152.9,203.9L153.1,204.6L153.3,205.2L153.4,205.9L153.6,206.5L153.8,207.2L153.9,207.8L154.1,208.5L154.2,209.2L154.3,209.8L154.5,210.5L154.6,211.1L154.7,211.5 M155.8,217.5L155.8,217.6L155.9,218.2L156,218.9L156.1,219.5L156.2,220.2L156.3,220.8L156.4,221.4L156.5,222.1L156.6,222.7L156.7,223.3L156.8,224L156.9,224.6L157,225.2L157.1,225.8L157.2,226.5L157.2,226.7" stroke="#b0a70c" stroke-width="1.5"/>
<path d="M50,147.6L50.2,147.6L50.8,147.4L51.5,147.3L52.1,147.2L52.7,147.1L53.4,147L54,146.9L54.6,146.8L55.3,146.7L55.9,146.6L56.6,146.5L57.2,146.4L57.8,146.3L58.5,146.2L59.1,146.1L59.8,146.1L60.4,146L61.1,145.9L61.1,145.9 M68.2,145.5L68.3,145.5L68.9,145.5L69.6,145.5L70.2,145.5L70.9,145.5L71.5,145.5L72.2,145.5L72.8,145.6L73.5,145.6L74.1,145.6L74.8,145.6L75.5,145.7L76.1,145.7L76.8,145.7L77.4,145.8L78.1,145.8L78.7,145.9L79.4,145.9L80,146L80.3,146 M87.3,147L87.3,147L88,147.1L88.6,147.3L89.3,147.4L89.9,147.5L90.5,147.7L91.2,147.8L91.8,147.9L92.4,148.1L93.1,148.3L93.7,148.4L94.3,148.6L94.9,148.7L95.6,148.9L96.2,149.1L96.8,149.3L97.4,149.5L98,149.7L98.6,149.9L98.9,150 M105.4,152.4L105.4,152.4L106,152.7L106.5,153L107.1,153.2L107.7,153.5L108.3,153.8L108.8,154.1L109.4,154.4L110,154.7L110.5,154.9L111.1,155.3L111.6,155.6L112.2,155.9L112.7,156.2L113.2,156.5L113.8,156.8L114.3,157.2L114.8,157.5L115.4,157.8L115.4,157.9 M120.7,161.7L120.7,161.7L121.2,162.1L121.7,162.5L122.2,162.9L122.7,163.3L123.1,163.7L123.6,164.1L124,164.6L124.5,165L124.9,165.4L125.4,165.9L125.8,166.3L126.2,166.7L126.7,167.2L127.1,167.6L127.5,168.1L127.9,168.6L128.4,169L128.5,169.2 M132.4,174L132.4,174L132.8,174.6L133.2,175.1L133.5,175.6L133.9,176.1L134.2,176.6L134.6,177.2L134.9,177.7L135.3,178.2L135.6,178.7L136,179.3L136.3,179.8L136.7,180.4L137,180.9L137.3,181.4L137.7,182L138,182.5L138.1,182.7 M141.1,187.9L141.1,187.9L141.4,188.5L141.7,189.1L142,189.6L142.3,190.2L142.5,190.8L142.8,191.4L143.1,192L143.4,192.5L143.7,193.1L143.9,193.7L144.2,194.3L144.5,194.9L144.7,195.5L145,196.1L145.2,196.7L145.4,197.1 M147.6,202.7L147.6,202.8L147.8,203.4L148,204L148.2,204.6L148.4,205.2L148.6,205.9L148.8,206.5L149,207.1L149.2,207.7L149.4,208.4L149.5,209L149.7,209.6L149.9,210.2L150.1,210.8L150.2,211.5L150.4,212.1L150.5,212.5 M151.8,218.3L151.8,218.3L152,219L152.1,219.6L152.2,220.2L152.3,220.8L152.5,221.4L152.6,222.1L152.7,222.7L152.8,223.3L152.9,223.9L153,224.5L153.1,225.1L153.1,225.8L153.2,226.4L153.3,227L153.3,227.2" stroke="#b0a70c" stroke-width="1.5"/>
<path d="M49.4,144L50.1,143.8L50.8,143.6L51.5,143.4L52.1,143.2L52.8,143L53.5,142.8L54.2,142.6L54.9,142.5L55.6,142.3L56.3,142.1L57,142L57.7,141.8L58.4,141.7L59,141.6L59.7,141.4L60.4,141.3L61.1,141.2L61.8,141.1L62.5,140.9L63.2,140.8L63.9,140.7L64.6,140.6L65.3,140.5L66.1,140.5L66.8,140.4L67.5,140.3L68.2,140.2L68.9,140.2L69.6,140.1L70.3,140.1L71,140L71.7,140L72.4,139.9L73.1,139.9L73.8,139.9L74.5,139.8L75.2,139.8L75.9,139.8L76.7,139.8L77.4,139.8L78.1,139.8L78.8,139.8L79.5,139.8L80.2,139.9L80.9,139.9L81.6,139.9L82.3,139.9L83,140L83.7,140L84.4,140.1L85.1,140.1L85.8,140.2L86.5,140.3L87.2,140.4L87.9,140.4L88.6,140.5L89.3,140.6L90,140.7L90.7,140.8L91.4,140.9L92.1,141L92.8,141.1L93.5,141.3L94.2,141.4L94.9,141.5L95.5,141.7L96.2,141.8L96.9,142L97.6,142.1L98.3,142.3L99,142.4L99.6,142.6L100.3,142.8L101,143L101.7,143.2L102.3,143.4L103,143.6L103.7,143.8L104.3,144L105,144.2L105.7,144.4L106.3,144.6L107,144.9L107.6,145.1L108.3,145.3L109,145.6L109.6,145.8L110.2,146.1L110.9,146.4L111.5,146.6L112.2,146.9L112.8,147.2L113.5,147.5L114.1,147.8L114.7,148.1L115.3,148.4L116,148.7L116.6,149L117.2,149.3L117.8,149.6L118.4,149.9L119,150.3L119.7,150.6L120.3,151L120.9,151.3L121.5,151.7L122.1,152L122.6,152.4L123.2,152.8L123.8,153.2L124.4,153.6L125,153.9L125.6,154.3L126.1,154.7L126.7,155.2L127.3,155.6L127.8,156L128.4,156.4L128.9,156.8L129.5,157.3L130,157.7L130.6,158.1L131.1,158.6L131.6,159L132.2,159.5L132.7,160L133.2,160.4L133.7,160.9L134.3,161.4L134.8,161.9L135.3,162.4L135.8,162.8L136.3,163.3L136.8,163.8L137.3,164.3L137.8,164.8L138.2,165.4L138.7,165.9L139.2,166.4L139.7,166.9L140.1,167.4L140.6,168L141.1,168.5L141.5,169.1L142,169.6L142.4,170.2L142.9,170.7L143.3,171.3L143.8,171.8L144.2,172.4L144.6,173L145.1,173.5L145.5,174.1L145.9,174.7L146.3,175.3L146.7,175.8L147.1,176.4L147.5,177L147.9,177.6L148.3,178.2L148.7,178.8L149.1,179.4L149.5,180L149.8,180.6L150.2,181.2L150.6,181.9L151,182.5L151.3,183.1L151.7,183.7L152,184.3L152.4,185L152.7,185.6L153.1,186.2L153.4,186.9L153.7,187.5L154,188.1L154.4,188.8L154.7,189.4L155,190.1L155.3,190.7L155.6,191.4L155.9,192L156.2,192.7L156.5,193.3L156.8,194L157.1,194.6L157.4,195.3L157.6,196L157.9,196.6L158.2,197.3L158.5,198L158.7,198.6L159,199.3L159.2,200L159.5,200.6L159.7,201.3L160,202L160.2,202.7L160.4,203.3L160.6,204L160.9,204.7L161.1,205.4L161.3,206.1L161.5,206.7L161.7,207.4L161.9,208.1L162.1,208.8L162.3,209.5L162.5,210.2L162.7,210.9L162.8,211.5L163,212.2L163.2,212.9L163.3,213.6L163.5,214.3L163.7,215L163.8,215.7L164,216.4L164.1,217.1L164.2,217.8L164.4,218.4L164.5,219.1L164.6,219.8L164.7,220.5L164.8,221.2L165,221.9L165.1,222.6L165.2,223.3L165.3,224L165.3,224.7L165.4,225.4L165.5,226L165.6,226.7L165.6,226.7" stroke="#b0a70c" stroke-width="1.5"/>
<path d="M50,145.9L50.7,145.7L51.3,145.5L52,145.3L52.7,145.2L53.3,145L54,144.8L54.7,144.7L55.4,144.5L56,144.3L56.7,144.2L57.4,144.1L58.1,143.9L58.8,143.8L59.4,143.7L60.1,143.5L60.8,143.4L61.5,143.3L62.2,143.2L62.9,143.1L63.6,143L64.2,142.9L64.9,142.9L65.6,142.8L66.3,142.7L67,142.6L67.7,142.6L68.4,142.5L69.1,142.5L69.7,142.4L70.4,142.4L71.1,142.4L71.8,142.3L72.5,142.3L73.2,142.3L73.9,142.3L74.6,142.3L75.3,142.3L75.9,142.3L76.6,142.3L77.3,142.3L78,142.3L78.7,142.3L79.4,142.4L80.1,142.4L80.8,142.4L81.4,142.5L82.1,142.5L82.8,142.6L83.5,142.6L84.2,142.7L84.9,142.8L85.5,142.9L86.2,142.9L86.9,143L87.6,143.1L88.2,143.2L88.9,143.3L89.6,143.4L90.3,143.5L90.9,143.7L91.6,143.8L92.3,143.9L92.9,144L93.6,144.2L94.3,144.3L94.9,144.5L95.6,144.6L96.2,144.8L96.9,145L97.6,145.1L98.2,145.3L98.9,145.5L99.5,145.7L100.2,145.9L100.8,146.1L101.4,146.3L102.1,146.5L102.7,146.7L103.4,146.9L104,147.1L104.6,147.4L105.3,147.6L105.9,147.9L106.5,148.1L107.1,148.3L107.7,148.6L108.4,148.9L109,149.1L109.6,149.4L110.2,149.7L110.8,150L111.4,150.3L112,150.6L112.6,150.9L113.2,151.2L113.8,151.5L114.3,151.8L114.9,152.1L115.5,152.4L116.1,152.8L116.7,153.1L117.2,153.4L117.8,153.8L118.4,154.1L118.9,154.5L119.5,154.8L120,155.2L120.6,155.6L121.1,156L121.6,156.3L122.2,156.7L122.7,157.1L123.2,157.5L123.8,157.9L124.3,158.3L124.8,158.7L125.3,159.2L125.8,159.6L126.4,160L126.9,160.4L127.4,160.9L127.9,161.3L128.3,161.8L128.8,162.2L129.3,162.7L129.8,163.1L130.3,163.6L130.8,164L131.2,164.5L131.7,165L132.2,165.5L132.6,165.9L133.1,166.4L133.5,166.9L134,167.4L134.4,167.9L134.9,168.4L135.3,168.9L135.8,169.4L136.2,169.9L136.6,170.5L137.1,171L137.5,171.5L137.9,172L138.3,172.6L138.7,173.1L139.1,173.6L139.5,174.2L139.9,174.7L140.3,175.3L140.7,175.8L141.1,176.4L141.5,176.9L141.9,177.5L142.3,178L142.6,178.6L143,179.2L143.4,179.7L143.7,180.3L144.1,180.9L144.5,181.5L144.8,182.1L145.2,182.6L145.5,183.2L145.9,183.8L146.2,184.4L146.5,185L146.9,185.6L147.2,186.2L147.5,186.8L147.8,187.4L148.2,188L148.5,188.6L148.8,189.2L149.1,189.8L149.4,190.5L149.7,191.1L150,191.7L150.3,192.3L150.5,192.9L150.8,193.6L151.1,194.2L151.4,194.8L151.6,195.4L151.9,196.1L152.2,196.7L152.4,197.3L152.7,198L152.9,198.6L153.2,199.3L153.4,199.9L153.7,200.5L153.9,201.2L154.1,201.8L154.3,202.5L154.6,203.1L154.8,203.8L155,204.4L155.2,205.1L155.4,205.7L155.6,206.4L155.8,207L156,207.7L156.2,208.3L156.4,209L156.6,209.6L156.7,210.3L156.9,210.9L157.1,211.6L157.2,212.2L157.4,212.9L157.6,213.6L157.7,214.2L157.9,214.9L158,215.5L158.1,216.2L158.3,216.8L158.4,217.5L158.5,218.2L158.7,218.8L158.8,219.5L158.9,220.1L159,220.8L159.1,221.4L159.2,222.1L159.3,222.8L159.4,223.4L159.5,224.1L159.6,224.7L159.7,225.4L159.8,226L159.8,226.7L159.9,227.3L159.9,227.3" stroke="#b0a70c" stroke-width="1.5"/>
<path d="M49.6,132.9L49.9,132.8L50.8,132.6L51.6,132.3L52.4,132.1L53.3,131.9L54.1,131.6L55,131.4L55.8,131.2L56.7,130.9L57.5,130.7L58.4,130.4L59.2,130.2L60.1,130L60.7,129.8 M67.6,128L67.7,128L68.5,127.7L69.4,127.5L70.3,127.3L71.2,127.1L72.1,126.9L73,126.7L73.9,126.4L74.8,126.2L75.7,126L76.6,125.8L77.5,125.6L78.4,125.4L79.3,125.2L79.5,125.2 M86.5,123.8L86.6,123.8L87.5,123.6L88.4,123.5L89.3,123.3L90.3,123.2L91.2,123L92.1,122.9L93,122.8L93.9,122.6L94.9,122.5L95.8,122.4L96.7,122.3L97.6,122.2L98.6,122.1L98.7,122 M106,121.5L106,121.5L106.9,121.4L107.8,121.4L108.8,121.3L109.7,121.3L110.6,121.3L111.5,121.3L112.5,121.3L113.4,121.3L114.3,121.3L115.2,121.3L116.2,121.3L117.1,121.4L118,121.4L118.4,121.4 M125.7,122.1L125.7,122.1L126.6,122.2L127.5,122.4L128.4,122.5L129.3,122.7L130.3,122.8L131.2,123L132.1,123.2L133,123.4L133.9,123.6L134.8,123.8L135.7,124L136.6,124.3L137.5,124.5L137.8,124.6 M144.6,127L144.8,127L145.6,127.4L146.5,127.7L147.3,128.1L148.1,128.5L149,128.9L149.8,129.3L150.6,129.8L151.4,130.2L152.2,130.7L153,131.1L153.8,131.6L154.5,132.1L155.3,132.6 M160.7,136.9L160.9,137L161.6,137.7L162.2,138.3L162.9,138.9L163.6,139.6L164.2,140.3L164.8,141L165.5,141.6L166.1,142.3L166.7,143.1L167.3,143.8L167.9,144.5L168.5,145.2L168.5,145.3 M172.3,150.5L172.3,150.6L172.9,151.4L173.4,152.2L173.9,153L174.4,153.8L174.9,154.6L175.4,155.4L175.8,156.2L176.3,157L176.8,157.9L177.3,158.7L177.7,159.5L177.9,159.9 M180.8,165.4L180.9,165.7L181.3,166.5L181.7,167.4L182.1,168.2L182.5,169L182.9,169.9L183.3,170.7L183.7,171.6L184.1,172.4L184.5,173.3L184.8,174.1L185.2,175L185.3,175.1 M187.6,180.9L187.6,180.9L187.9,181.8L188.3,182.6L188.6,183.5L188.9,184.4L189.2,185.2L189.5,186.1L189.8,186.9L190.1,187.8L190.4,188.7L190.7,189.5L191,190.4L191.1,190.9 M192.9,196.8L192.9,196.8L193.1,197.7L193.4,198.6L193.6,199.4L193.9,200.3L194.1,201.2L194.3,202.1L194.5,203L194.7,203.9L195,204.8L195.2,205.7L195.4,206.6L195.5,206.9 M196.7,212.9L196.7,213.2L196.9,214.1L197,215L197.2,215.9L197.3,216.8L197.5,217.8L197.6,218.7L197.8,219.6L197.9,220.5L198,221.5L198.2,222.4L198.3,223.3" stroke="#10b010" stroke-width="1.5"/>
<path d="M50.1,134.5L50.4,134.4L51.2,134.2L52,134L52.9,133.8L53.7,133.5L54.6,133.3L55.4,133.1L56.3,132.9L57.1,132.6L58,132.4L58.8,132.2L59.7,132L60.6,131.7L61.2,131.6 M68.1,129.8L68.1,129.8L69,129.6L69.9,129.4L70.8,129.2L71.7,129L72.6,128.8L73.4,128.6L74.3,128.4L75.2,128.2L76.1,128L77,127.8L77.9,127.6L78.8,127.5L79.7,127.3L79.9,127.2 M86.9,126L87,126L87.9,125.8L88.8,125.7L89.7,125.6L90.6,125.4L91.5,125.3L92.4,125.2L93.3,125.1L94.2,124.9L95.2,124.8L96.1,124.7L97,124.6L97.9,124.6L98.8,124.5L99,124.5 M106.1,124L106.1,124L107,124L107.9,124L108.8,124L109.7,123.9L110.6,123.9L111.5,124L112.4,124L113.3,124L114.2,124L115.1,124.1L116,124.1L116.9,124.2L117.8,124.2L118.2,124.3 M125.3,125.1L125.3,125.1L126.1,125.2L127,125.4L127.9,125.5L128.8,125.7L129.6,125.9L130.5,126.1L131.4,126.3L132.2,126.5L133.1,126.7L134,126.9L134.8,127.2L135.7,127.4L136.5,127.7L136.9,127.8 M143.2,130.2L143.4,130.3L144.1,130.7L144.9,131L145.7,131.4L146.5,131.8L147.2,132.2L148,132.6L148.7,133L149.5,133.5L150.2,133.9L150.9,134.4L151.6,134.9L152.3,135.4L153,135.9 M157.9,140L158,140.1L158.6,140.7L159.3,141.3L159.9,141.9L160.4,142.5L161,143.2L161.6,143.8L162.2,144.5L162.7,145.2L163.3,145.9L163.8,146.6L164.4,147.3L164.9,148L164.9,148 M168.4,153.1L168.4,153.1L168.9,153.9L169.4,154.7L169.8,155.4L170.3,156.2L170.8,157L171.2,157.8L171.6,158.6L172.1,159.4L172.5,160.2L172.9,161L173.4,161.8L173.5,162.2 M176.2,167.7L176.3,167.9L176.7,168.7L177.1,169.5L177.4,170.4L177.8,171.2L178.2,172L178.6,172.9L178.9,173.7L179.3,174.5L179.6,175.4L180,176.2L180.3,177L180.4,177.2 M182.6,182.8L182.6,182.8L183,183.7L183.3,184.5L183.6,185.3L183.9,186.2L184.2,187L184.5,187.8L184.8,188.7L185,189.5L185.3,190.4L185.6,191.2L185.9,192L186,192.5 M187.7,198.2L187.7,198.3L188,199.1L188.2,200L188.4,200.8L188.7,201.7L188.9,202.5L189.1,203.4L189.3,204.3L189.5,205.1L189.7,206L189.9,206.9L190.1,207.7L190.2,208.1 M191.4,213.9L191.4,214.1L191.6,215L191.7,215.9L191.9,216.8L192,217.7L192.2,218.6L192.3,219.5L192.4,220.4L192.6,221.3L192.7,222.2L192.8,223.1L192.9,223.9" stroke="#10b010" stroke-width="1.5"/>
<path d="M49.6,128.4L50.5,128.2L51.5,128L52.4,127.7L53.3,127.5L54.2,127.2L55.2,127L56.1,126.7L57,126.5L57.9,126.2L58.9,126L59.8,125.7L60.8,125.4L61.7,125.2L62.6,124.9L63.6,124.7L64.5,124.4L65.5,124.1L66.4,123.9L67.4,123.6L68.4,123.3L69.3,123.1L70.3,122.8L71.2,122.6L72.2,122.3L73.2,122L74.1,121.8L75.1,121.5L76.1,121.3L77.1,121L78,120.8L79,120.5L80,120.3L81,120L81.9,119.8L82.9,119.5L83.9,119.3L84.9,119L85.9,118.8L86.9,118.6L87.9,118.4L88.9,118.1L89.8,117.9L90.8,117.7L91.8,117.5L92.8,117.3L93.8,117.1L94.8,116.9L95.8,116.7L96.8,116.5L97.8,116.3L98.8,116.1L99.8,116L100.8,115.8L101.8,115.7L102.9,115.5L103.9,115.4L104.9,115.2L105.9,115.1L106.9,114.9L107.9,114.8L108.9,114.7L109.9,114.6L110.9,114.5L112,114.4L113,114.3L114,114.3L115,114.2L116,114.1L117,114.1L118,114L119.1,114L120.1,114L121.1,114L122.1,114L123.1,114L124.2,114L125.2,114L126.2,114L127.2,114.1L128.2,114.1L129.3,114.2L130.3,114.3L131.3,114.4L132.3,114.5L133.3,114.6L134.3,114.7L135.3,114.8L136.3,114.9L137.3,115.1L138.3,115.3L139.3,115.4L140.3,115.6L141.3,115.8L142.3,116L143.3,116.2L144.3,116.5L145.3,116.7L146.2,116.9L147.2,117.2L148.2,117.5L149.2,117.8L150.1,118.1L151.1,118.4L152,118.7L153,119.1L153.9,119.4L154.8,119.8L155.8,120.2L156.7,120.6L157.6,121L158.5,121.4L159.4,121.8L160.3,122.3L161.2,122.7L162.1,123.2L163,123.7L163.8,124.2L164.7,124.7L165.5,125.3L166.4,125.8L167.2,126.4L168,126.9L168.9,127.5L169.7,128.1L170.5,128.7L171.3,129.3L172.1,130L172.8,130.6L173.6,131.3L174.4,131.9L175.1,132.6L175.9,133.3L176.6,134L177.4,134.7L178.1,135.4L178.8,136.1L179.5,136.8L180.2,137.6L180.9,138.3L181.6,139.1L182.3,139.8L182.9,140.6L183.6,141.4L184.2,142.2L184.9,143L185.5,143.8L186.2,144.6L186.8,145.4L187.4,146.3L188,147.1L188.6,148L189.1,148.8L189.7,149.7L190.3,150.5L190.8,151.4L191.4,152.3L191.9,153.2L192.4,154.1L193,155L193.5,155.9L194,156.8L194.5,157.7L194.9,158.6L195.4,159.6L195.9,160.5L196.3,161.4L196.8,162.4L197.2,163.3L197.6,164.3L198,165.2L198.4,166.2L198.8,167.1L199.2,168.1L199.6,169L200,170L200.4,171L200.7,172L201.1,172.9L201.4,173.9L201.8,174.9L202.1,175.9L202.4,176.9L202.7,177.9L203,178.8L203.3,179.8L203.6,180.8L203.9,181.8L204.2,182.8L204.5,183.8L204.8,184.8L205,185.8L205.3,186.8L205.6,187.8L205.8,188.8L206.1,189.8L206.3,190.8L206.6,191.8L206.8,192.8L207.1,193.8L207.3,194.8L207.5,195.8L207.7,196.8L208,197.7L208.2,198.7L208.4,199.7L208.6,200.7L208.8,201.7L209.1,202.7L209.3,203.7L209.5,204.6L209.7,205.6L209.9,206.6L210.1,207.6L210.3,208.5L210.5,209.5L210.7,210.5L210.9,211.4L211.1,212.4L211.2,213.3L211.4,214.3L211.6,215.2L211.8,216.2L212,217.1L212.2,218L212.4,219L212.6,219.9L212.8,220.8L213,221.7L213.2,222.6L213.4,223.5L213.6,224.4L213.7,225.3L213.9,226.2L213.9,226.2" stroke="#10b010" stroke-width="1.5"/>
<path d="M50.2,130.6L51.1,130.3L52,130.1L52.9,129.9L53.9,129.6L54.8,129.4L55.7,129.1L56.7,128.9L57.6,128.6L58.5,128.4L59.5,128.1L60.4,127.9L61.4,127.6L62.3,127.4L63.3,127.1L64.2,126.9L65.2,126.6L66.1,126.4L67.1,126.1L68,125.9L69,125.6L69.9,125.4L70.9,125.1L71.9,124.9L72.8,124.6L73.8,124.4L74.7,124.1L75.7,123.9L76.7,123.6L77.7,123.4L78.6,123.1L79.6,122.9L80.6,122.7L81.6,122.4L82.5,122.2L83.5,122L84.5,121.7L85.5,121.5L86.4,121.3L87.4,121.1L88.4,120.9L89.4,120.6L90.4,120.4L91.4,120.2L92.4,120L93.3,119.9L94.3,119.7L95.3,119.5L96.3,119.3L97.3,119.1L98.3,119L99.3,118.8L100.3,118.6L101.3,118.5L102.2,118.4L103.2,118.2L104.2,118.1L105.2,118L106.2,117.8L107.2,117.7L108.2,117.6L109.2,117.5L110.2,117.4L111.2,117.4L112.2,117.3L113.2,117.2L114.2,117.1L115.2,117.1L116.2,117.1L117.1,117L118.1,117L119.1,117L120.1,117L121.1,117L122.1,117L123.1,117L124.1,117L125.1,117.1L126.1,117.1L127,117.2L128,117.2L129,117.3L130,117.4L131,117.5L132,117.6L132.9,117.7L133.9,117.8L134.9,118L135.9,118.1L136.8,118.3L137.8,118.5L138.7,118.6L139.7,118.8L140.6,119L141.6,119.2L142.5,119.5L143.5,119.7L144.4,120L145.3,120.2L146.3,120.5L147.2,120.8L148.1,121.1L149,121.4L149.9,121.7L150.8,122L151.7,122.4L152.6,122.7L153.5,123.1L154.3,123.5L155.2,123.9L156.1,124.3L156.9,124.7L157.8,125.1L158.6,125.6L159.4,126L160.2,126.5L161.1,127L161.9,127.5L162.7,128L163.4,128.5L164.2,129L165,129.6L165.8,130.1L166.5,130.7L167.3,131.2L168,131.8L168.8,132.4L169.5,133L170.2,133.7L170.9,134.3L171.7,134.9L172.4,135.6L173,136.3L173.7,136.9L174.4,137.6L175.1,138.3L175.7,139L176.4,139.7L177,140.5L177.6,141.2L178.3,141.9L178.9,142.7L179.5,143.5L180.1,144.2L180.7,145L181.3,145.8L181.8,146.6L182.4,147.4L182.9,148.2L183.5,149L184,149.8L184.6,150.6L185.1,151.4L185.6,152.3L186.1,153.1L186.6,154L187.1,154.8L187.6,155.7L188,156.6L188.5,157.4L188.9,158.3L189.4,159.2L189.8,160.1L190.2,161L190.7,161.8L191.1,162.7L191.5,163.6L191.9,164.6L192.3,165.5L192.6,166.4L193,167.3L193.4,168.2L193.8,169.2L194.1,170.1L194.5,171L194.8,171.9L195.1,172.9L195.5,173.8L195.8,174.8L196.1,175.7L196.5,176.7L196.8,177.6L197.1,178.6L197.4,179.5L197.7,180.5L198,181.5L198.3,182.4L198.5,183.4L198.8,184.4L199.1,185.3L199.4,186.3L199.6,187.3L199.9,188.2L200.2,189.2L200.4,190.2L200.7,191.2L200.9,192.1L201.1,193.1L201.4,194.1L201.6,195.1L201.8,196L202.1,197L202.3,198L202.5,199L202.7,200L203,200.9L203.2,201.9L203.4,202.9L203.6,203.8L203.8,204.8L204,205.8L204.2,206.8L204.4,207.7L204.6,208.7L204.8,209.7L205,210.6L205.2,211.6L205.4,212.5L205.6,213.5L205.8,214.4L206,215.4L206.2,216.3L206.4,217.3L206.6,218.2L206.8,219.2L207,220.1L207.2,221L207.4,221.9L207.6,222.9L207.8,223.8L208,224.7L208.2,225.6L208.4,226.5L208.6,227.4L208.6,227.4" stroke="#10b010" stroke-width="1.5"/>
<path d="M49.8,119.2L49.9,119.1L51.1,118.7L52.2,118.3L53.4,117.9L54.5,117.5L55.7,117L56.8,116.6L58,116.2L59.1,115.7L60.3,115.3L61,115 M67.5,112.5L67.6,112.5L68.8,112L69.9,111.5L71.1,111.1L72.3,110.6L73.4,110.2L74.6,109.7L75.8,109.2L77,108.8L78.1,108.3L78.7,108.1 M85.2,105.6L85.2,105.6L86.4,105.1L87.6,104.7L88.8,104.2L89.9,103.8L91.1,103.4L92.3,102.9L93.5,102.5L94.7,102.1L95.9,101.6L96.5,101.4 M103.2,99.1L103.5,99L104.7,98.6L105.9,98.2L107.2,97.9L108.4,97.5L109.6,97.1L110.8,96.8L112,96.4L113.2,96L114.4,95.7L114.8,95.6 M121.7,93.8L121.8,93.8L123,93.5L124.3,93.2L125.5,93L126.7,92.7L128,92.5L129.2,92.2L130.4,92L131.7,91.8L132.9,91.6L133.8,91.4 M141,90.5L141.3,90.5L142.5,90.4L143.8,90.3L145,90.2L146.3,90.1L147.6,90L148.8,90L150.1,89.9L151.4,89.9L152.6,89.9L153.4,89.9 M160.7,90.1L160.7,90.1L162,90.2L163.2,90.4L164.5,90.5L165.8,90.6L167,90.8L168.3,91L169.6,91.2L170.8,91.4L172.1,91.6L173.1,91.8 M180.1,93.6L180.3,93.6L181.5,94L182.7,94.4L183.9,94.8L185.1,95.3L186.3,95.7L187.4,96.2L188.6,96.7L189.8,97.2L190.9,97.8L191.5,98 M197.6,101.5L197.9,101.7L199,102.5L200.1,103.2L201.1,104L202.1,104.7L203.2,105.6L204.2,106.4L205.1,107.3L206.1,108.1L206.8,108.8 M211.4,113.7L211.6,113.9L212.4,114.9L213.3,115.9L214.1,116.9L215,117.9L215.8,119L216.6,120L217.4,121L218.2,122L218.4,122.3 M222.3,127.2L222.3,127.3L223.1,128.3L223.9,129.3L224.7,130.2L225.4,131.2L226.2,132.3L226.9,133.3L227.6,134.4L228.3,135.4L228.8,136.3 M231.8,142L231.9,142.2L232.5,143.4L233,144.6L233.5,145.8L233.9,147L234.4,148.2L234.8,149.4L235.3,150.6L235.7,151.8L235.8,152 M237.7,157.8L237.8,158.2L238.2,159.5L238.5,160.7L238.9,161.9L239.3,163.1L239.6,164.3L239.9,165.6L240.3,166.8L240.6,167.9 M242.1,173.9L242.1,174.2L242.4,175.4L242.7,176.7L243,177.9L243.3,179.2L243.5,180.4L243.8,181.7L244.1,182.9L244.3,184 M245.5,190L245.5,190.4L245.8,191.6L246,192.9L246.2,194.1L246.5,195.3L246.7,196.6L246.9,197.8L247.1,199.1L247.3,200.2 M248.3,206.1L248.3,206.5L248.5,207.8L248.7,209L248.9,210.2L249.1,211.5L249.3,212.7L249.5,213.9L249.7,215.2L249.9,216.3 M250.8,222.3L250.8,222.5L251,223.7L251.2,224.9L251.4,226.2L251.5,226.6" stroke="#1010aa" stroke-width="1.5"/>
<path d="M50.3,120.8L50.5,120.7L51.6,120.3L52.8,119.9L54,119.5L55.1,119.1L56.3,118.7L57.4,118.2L58.6,117.8L59.7,117.4L60.9,117L61.6,116.7 M68.2,114.2L68.3,114.2L69.4,113.7L70.6,113.3L71.8,112.8L73,112.4L74.1,111.9L75.3,111.5L76.5,111.1L77.7,110.6L78.8,110.2L79.4,110 M85.9,107.5L85.9,107.5L87.1,107.1L88.3,106.6L89.5,106.2L90.7,105.8L91.9,105.4L93.1,104.9L94.2,104.5L95.4,104.1L96.6,103.7L97.2,103.5 M103.9,101.3L104.2,101.2L105.4,100.8L106.6,100.5L107.8,100.1L109,99.7L110.2,99.4L111.5,99L112.7,98.7L113.9,98.4L115.1,98.1L115.4,98 M122.3,96.3L122.4,96.3L123.6,96L124.8,95.8L126,95.5L127.2,95.3L128.5,95.1L129.7,94.9L130.9,94.7L132.1,94.5L133.3,94.3L134.2,94.2 M141.2,93.3L141.5,93.3L142.8,93.2L144,93.1L145.2,93.1L146.5,93L147.7,93L148.9,92.9L150.2,92.9L151.4,92.9L152.6,92.9L153.4,92.9 M160.4,93.3L160.4,93.3L161.7,93.5L162.9,93.6L164.1,93.7L165.3,93.9L166.6,94.1L167.8,94.3L169,94.5L170.2,94.8L171.4,95L172.3,95.2 M179,97.1L179.2,97.2L180.3,97.5L181.4,98L182.6,98.4L183.7,98.8L184.8,99.3L185.9,99.8L187,100.3L188,100.8L189.1,101.4L189.6,101.6 M195.3,105.1L195.6,105.3L196.5,106L197.5,106.7L198.4,107.4L199.4,108.2L200.3,108.9L201.2,109.7L202.1,110.6L203,111.4L203.6,112.1 M207.8,116.7L208,116.9L208.8,117.9L209.6,118.9L210.4,119.9L211.2,120.9L211.9,122L212.7,123L213.5,124L214.2,125L214.4,125.3 M218.3,130.4L218.3,130.5L219.1,131.4L219.8,132.4L220.6,133.4L221.3,134.3L222,135.3L222.6,136.2L223.3,137.2L223.9,138.2L224.3,138.9 M227,144.2L227.1,144.4L227.6,145.5L228,146.6L228.5,147.8L228.9,148.9L229.4,150.1L229.8,151.2L230.2,152.4L230.6,153.5L230.7,153.7 M232.5,159.4L232.6,159.8L233,161L233.4,162.2L233.7,163.4L234.1,164.6L234.4,165.8L234.7,167L235.1,168.2L235.3,169.3 M236.8,175.1L236.9,175.5L237.2,176.7L237.5,177.9L237.7,179.1L238,180.3L238.3,181.6L238.6,182.8L238.8,184L239.1,185.1 M240.2,191L240.3,191.4L240.5,192.6L240.8,193.8L241,195.1L241.2,196.3L241.5,197.5L241.7,198.8L241.9,200L242.1,201.1 M243.1,207L243.2,207.4L243.4,208.6L243.6,209.8L243.8,211.1L244,212.3L244.3,213.5L244.5,214.7L244.7,216L244.9,217.1 M245.9,223.1L245.9,223.3L246.1,224.5L246.3,225.7L246.5,227L246.6,227.4" stroke="#1010aa" stroke-width="1.5"/>
<path d="M49.6,113.4L50.9,113L52.3,112.5L53.6,112L54.9,111.5L56.2,111.1L57.5,110.6L58.8,110.1L60.1,109.6L61.4,109.1L62.7,108.6L64,108.1L65.4,107.6L66.7,107.1L68,106.6L69.3,106.1L70.6,105.5L71.9,105L73.2,104.5L74.6,104L75.9,103.4L77.2,102.9L78.5,102.4L79.8,101.9L81.2,101.3L82.5,100.8L83.8,100.3L85.1,99.8L86.5,99.2L87.8,98.7L89.1,98.2L90.4,97.7L91.8,97.1L93.1,96.6L94.4,96.1L95.8,95.6L97.1,95.1L98.4,94.5L99.8,94L101.1,93.5L102.5,93L103.8,92.5L105.1,92L106.5,91.5L107.8,91L109.2,90.5L110.5,90.1L111.9,89.6L113.2,89.1L114.6,88.6L116,88.2L117.3,87.7L118.7,87.3L120,86.8L121.4,86.4L122.8,86L124.1,85.5L125.5,85.1L126.9,84.7L128.2,84.3L129.6,83.9L131,83.5L132.4,83.2L133.7,82.8L135.1,82.4L136.5,82.1L137.9,81.7L139.3,81.4L140.7,81.1L142.1,80.8L143.5,80.4L144.9,80.2L146.3,79.9L147.7,79.6L149.1,79.3L150.5,79.1L151.9,78.8L153.3,78.6L154.7,78.4L156.1,78.2L157.6,78L159,77.8L160.4,77.6L161.8,77.4L163.3,77.3L164.7,77.1L166.1,77L167.6,76.9L169,76.8L170.5,76.7L171.9,76.6L173.4,76.6L174.8,76.5L176.3,76.5L177.7,76.5L179.2,76.5L180.7,76.5L182.1,76.6L183.6,76.6L185,76.7L186.5,76.8L188,76.9L189.4,77.1L190.9,77.2L192.3,77.4L193.7,77.6L195.2,77.8L196.6,78.1L198,78.4L199.4,78.7L200.9,79L202.3,79.4L203.7,79.7L205,80.1L206.4,80.5L207.8,81L209.1,81.5L210.5,82L211.8,82.5L213.2,83L214.5,83.6L215.8,84.2L217,84.9L218.3,85.5L219.6,86.2L220.8,86.9L222,87.7L223.3,88.4L224.4,89.3L225.6,90.1L226.8,90.9L227.9,91.8L229,92.7L230.1,93.6L231.2,94.6L232.3,95.6L233.3,96.6L234.4,97.6L235.4,98.6L236.4,99.6L237.4,100.7L238.4,101.8L239.3,102.9L240.2,104L241.1,105.2L242,106.3L242.9,107.5L243.8,108.7L244.6,109.9L245.4,111.1L246.3,112.3L247,113.6L247.8,114.8L248.6,116.1L249.3,117.4L250,118.6L250.7,119.9L251.4,121.2L252.1,122.5L252.7,123.8L253.4,125.2L254,126.5L254.6,127.8L255.2,129.2L255.8,130.5L256.3,131.9L256.9,133.2L257.4,134.6L257.9,135.9L258.4,137.3L258.9,138.7L259.4,140.1L259.9,141.4L260.3,142.8L260.8,144.2L261.2,145.6L261.6,147L262,148.3L262.4,149.7L262.8,151.1L263.2,152.5L263.6,153.9L264,155.3L264.4,156.7L264.7,158.1L265.1,159.4L265.4,160.8L265.8,162.2L266.1,163.6L266.4,165L266.7,166.4L267.1,167.8L267.4,169.2L267.7,170.6L268,171.9L268.3,173.3L268.5,174.7L268.8,176.1L269.1,177.5L269.4,178.9L269.6,180.3L269.9,181.7L270.1,183.1L270.4,184.5L270.7,185.9L270.9,187.3L271.1,188.7L271.4,190.1L271.6,191.5L271.8,192.9L272.1,194.3L272.3,195.7L272.5,197.1L272.7,198.5L273,199.9L273.2,201.3L273.4,202.7L273.6,204.1L273.8,205.5L274,206.9L274.2,208.3L274.4,209.7L274.6,211.1L274.9,212.5L275.1,213.9L275.3,215.3L275.5,216.7L275.7,218.1L275.9,219.6L276.1,221L276.3,222.4L276.5,223.8L276.7,225.2L276.9,226.6L276.9,226.6" stroke="#1010aa" stroke-width="1.5"/>
<path d="M50,114.5L51.3,114L52.6,113.5L53.9,113.1L55.2,112.6L56.6,112.1L57.9,111.6L59.2,111.1L60.5,110.7L61.8,110.2L63.1,109.7L64.4,109.2L65.8,108.7L67.1,108.2L68.4,107.7L69.7,107.2L71,106.6L72.4,106.1L73.7,105.6L75,105.1L76.3,104.6L77.7,104.1L79,103.6L80.3,103.1L81.6,102.5L83,102L84.3,101.5L85.6,101L87,100.5L88.3,100L89.6,99.5L91,99L92.3,98.5L93.6,98L95,97.5L96.3,97L97.6,96.5L99,96L100.3,95.5L101.7,95L103,94.5L104.4,94L105.7,93.5L107,93.1L108.4,92.6L109.7,92.1L111.1,91.7L112.5,91.2L113.8,90.8L115.2,90.4L116.5,89.9L117.9,89.5L119.2,89.1L120.6,88.6L122,88.2L123.3,87.8L124.7,87.4L126.1,87.1L127.4,86.7L128.8,86.3L130.2,85.9L131.5,85.6L132.9,85.2L134.3,84.9L135.7,84.6L137,84.2L138.4,83.9L139.8,83.6L141.2,83.3L142.6,83L143.9,82.8L145.3,82.5L146.7,82.3L148.1,82L149.5,81.8L150.9,81.6L152.3,81.4L153.7,81.2L155.1,81L156.5,80.8L157.9,80.7L159.3,80.5L160.7,80.4L162.1,80.3L163.5,80.2L164.9,80.1L166.3,80L167.8,80L169.2,80L170.6,79.9L172,79.9L173.4,79.9L174.8,80L176.3,80L177.7,80L179.1,80.1L180.5,80.2L181.9,80.3L183.3,80.4L184.7,80.5L186.1,80.7L187.5,80.8L188.9,81L190.3,81.2L191.7,81.4L193.1,81.7L194.4,81.9L195.8,82.2L197.2,82.5L198.5,82.8L199.8,83.1L201.2,83.5L202.5,83.8L203.8,84.2L205.1,84.6L206.4,85.1L207.7,85.5L208.9,86L210.2,86.5L211.4,87L212.6,87.6L213.9,88.2L215,88.8L216.2,89.4L217.4,90L218.5,90.7L219.7,91.4L220.8,92.2L221.9,92.9L223,93.7L224.1,94.5L225.1,95.3L226.2,96.2L227.2,97L228.2,97.9L229.2,98.9L230.2,99.8L231.2,100.8L232.1,101.7L233.1,102.7L234,103.8L234.9,104.8L235.8,105.8L236.7,106.9L237.5,108L238.4,109.1L239.2,110.2L240,111.4L240.8,112.5L241.6,113.7L242.4,114.8L243.1,116L243.9,117.2L244.6,118.4L245.3,119.7L246,120.9L246.6,122.1L247.3,123.4L247.9,124.6L248.5,125.9L249.1,127.2L249.7,128.4L250.3,129.7L250.9,131L251.4,132.3L251.9,133.6L252.5,134.9L253,136.3L253.5,137.6L253.9,138.9L254.4,140.3L254.9,141.6L255.3,142.9L255.8,144.3L256.2,145.6L256.6,147L257,148.3L257.4,149.7L257.8,151.1L258.2,152.4L258.6,153.8L259,155.2L259.3,156.5L259.7,157.9L260,159.3L260.4,160.6L260.7,162L261,163.4L261.4,164.7L261.7,166.1L262,167.5L262.3,168.8L262.6,170.2L262.9,171.6L263.2,173L263.5,174.3L263.7,175.7L264,177.1L264.3,178.5L264.5,179.8L264.8,181.2L265.1,182.6L265.3,184L265.6,185.3L265.8,186.7L266,188.1L266.3,189.5L266.5,190.9L266.7,192.3L267,193.7L267.2,195.1L267.4,196.4L267.6,197.8L267.8,199.2L268.1,200.6L268.3,202L268.5,203.4L268.7,204.8L268.9,206.2L269.1,207.6L269.3,209L269.5,210.4L269.7,211.8L269.9,213.2L270.1,214.6L270.3,216L270.5,217.4L270.7,218.9L270.9,220.3L271.1,221.7L271.3,223.1L271.5,224.5L271.7,225.9L271.9,227.4L271.9,227.4" stroke="#1010aa" stroke-width="1.5"/>
<path d="M51.1,105.3L51.5,105.1L53,104.3L54.5,103.6L56,102.8L57.5,102L59,101.3L60.5,100.5L61.6,100 M67.8,96.9L68,96.9L69.5,96.1L71.1,95.4L72.6,94.7L74.1,94L75.6,93.3L77.1,92.6L78.6,91.9 M84.9,89.1L85.3,88.9L86.8,88.2L88.3,87.5L89.9,86.9L91.4,86.2L92.9,85.6L94.5,84.9L95.9,84.3 M102.3,81.6L102.7,81.5L104.2,80.8L105.8,80.2L107.3,79.6L108.9,78.9L110.4,78.3L111.9,77.7L113.4,77.1 M119.9,74.6L120.2,74.4L121.8,73.8L123.4,73.2L124.9,72.7L126.5,72.1L128,71.5L129.6,70.9L131.1,70.3 M137.7,67.9L138,67.8L139.6,67.2L141.1,66.7L142.7,66.1L144.3,65.5L145.9,65L147.5,64.4L149,63.9L149.1,63.8 M155.8,61.6L156,61.5L157.6,61L159.2,60.5L160.8,60L162.4,59.5L164,59L165.6,58.6L167.2,58.1L167.4,58.1 M174.3,56.3L174.3,56.3L175.9,55.9L177.6,55.5L179.2,55.2L180.9,54.8L182.6,54.5L184.2,54.2L185.9,53.9L186.4,53.9 M193.6,52.9L193.8,52.9L195.5,52.8L197.2,52.6L198.9,52.5L200.6,52.4L202.4,52.4L204.1,52.3L205.8,52.3L206,52.3 M213.3,52.5L213.8,52.6L215.5,52.7L217.2,52.9L218.9,53.1L220.6,53.3L222.3,53.5L224,53.8L225.6,54.1 M232.7,55.7L232.8,55.7L234.5,56.2L236.1,56.7L237.7,57.2L239.3,57.8L240.8,58.4L242.4,59L243.9,59.6L244.2,59.8 M250.6,62.9L251,63.1L252.4,64L253.8,64.9L255.2,65.8L256.6,66.8L258,67.8L259.3,68.8L260.3,69.6 M265.3,74.2L265.7,74.5L266.9,75.7L268,77L269.2,78.3L270.3,79.6L271.3,81L272.4,82.3L272.7,82.7 M276.4,88L276.4,88L277.3,89.5L278.3,90.9L279.1,92.4L280,93.9L280.9,95.4L281.7,96.9L281.9,97.4 M284.7,103L284.8,103.1L285.5,104.7L286.2,106.2L286.9,107.8L287.5,109.4L288.2,111L288.8,112.6L288.9,112.8 M291,118.6L291.2,119L291.7,120.6L292.3,122.2L292.8,123.8L293.3,125.4L293.8,127L294.3,128.6 M296,134.5L296,134.6L296.4,136.2L296.8,137.9L297.3,139.5L297.7,141.1L298.1,142.8L298.4,144.4L298.5,144.6 M299.8,150.6L299.9,151L300.2,152.6L300.5,154.3L300.9,155.9L301.2,157.6L301.5,159.2L301.8,160.8 M302.8,166.7L302.8,166.9L303.1,168.6L303.3,170.2L303.6,171.9L303.8,173.5L304.1,175.2L304.3,176.9L304.3,177 M305.2,182.9L305.2,183.5L305.5,185.1L305.7,186.8L305.9,188.5L306.1,190.1L306.4,191.8L306.5,193.1 M307.3,199.1L307.4,199.5L307.6,201.2L307.8,202.9L308,204.5L308.3,206.2L308.5,207.8L308.7,209.3 M309.5,215.2L309.6,215.6L309.8,217.2L310,218.9L310.3,220.6L310.5,222.2L310.8,223.9L311,225.4" stroke="#8b008b" stroke-width="1.5"/>
<path d="M51.7,106.6L52.1,106.4L53.6,105.6L55.1,104.9L56.6,104.1L58.1,103.4L59.6,102.6L61.2,101.9L62.3,101.3 M68.5,98.4L68.7,98.3L70.2,97.6L71.7,96.9L73.3,96.2L74.8,95.5L76.3,94.8L77.8,94.1L79.3,93.5 M85.6,90.7L86,90.5L87.5,89.8L89,89.2L90.6,88.5L92.1,87.9L93.6,87.2L95.2,86.6L96.6,86 M103,83.4L103.4,83.2L104.9,82.6L106.5,82L108,81.4L109.6,80.8L111.1,80.2L112.7,79.6L114.1,79 M120.7,76.5L121,76.4L122.5,75.8L124.1,75.2L125.7,74.7L127.2,74.1L128.8,73.5L130.4,72.9L131.9,72.4 M138.5,70L138.8,69.9L140.3,69.4L141.9,68.8L143.5,68.3L145.1,67.7L146.7,67.2L148.2,66.6L149.8,66.1L149.8,66.1 M156.5,63.9L156.7,63.9L158.3,63.4L159.9,62.9L161.5,62.4L163.1,61.9L164.7,61.5L166.3,61L167.9,60.6L168,60.5 M174.9,58.8L174.9,58.8L176.5,58.5L178.1,58.1L179.8,57.8L181.4,57.5L183,57.2L184.7,56.9L186.3,56.7L186.8,56.6 M193.8,55.8L194.1,55.8L195.7,55.6L197.4,55.5L199.1,55.4L200.7,55.4L202.4,55.3L204.1,55.3L205.8,55.3L206,55.3 M213.1,55.7L213.6,55.7L215.2,55.9L216.9,56L218.5,56.2L220.2,56.5L221.8,56.7L223.4,57L225,57.3 M231.8,59L231.9,59L233.4,59.5L235,60L236.5,60.5L238,61.1L239.5,61.7L241,62.3L242.5,63L242.7,63.1 M248.7,66.2L249,66.4L250.4,67.3L251.7,68.1L253,69L254.3,69.9L255.6,70.9L256.8,71.9L257.7,72.7 M262.3,77.1L262.6,77.4L263.7,78.6L264.8,79.8L265.9,81.1L266.9,82.4L267.9,83.7L268.9,85L269.1,85.3 M272.6,90.4L272.6,90.5L273.5,91.9L274.3,93.3L275.1,94.7L275.9,96.2L276.7,97.6L277.5,99.1L277.7,99.5 M280.3,105L280.3,105.1L281,106.6L281.7,108.2L282.3,109.7L282.9,111.2L283.5,112.8L284.1,114.4L284.2,114.6 M286.2,120.3L286.3,120.6L286.9,122.2L287.4,123.8L287.9,125.4L288.3,127L288.8,128.5L289.3,130.1 M290.8,135.9L290.9,136L291.3,137.6L291.7,139.2L292.1,140.8L292.5,142.4L292.8,144L293.2,145.6L293.2,145.8 M294.5,151.7L294.6,152.1L294.9,153.7L295.2,155.3L295.6,156.9L295.9,158.6L296.2,160.2L296.5,161.7 M297.5,167.6L297.5,167.8L297.8,169.4L298.1,171.1L298.4,172.7L298.6,174.3L298.9,176L299.1,177.6L299.2,177.7 M300.1,183.7L300.1,184.2L300.4,185.9L300.6,187.5L300.9,189.2L301.1,190.8L301.3,192.5L301.5,193.8 M302.3,199.8L302.4,200.2L302.6,201.9L302.9,203.5L303.1,205.2L303.3,206.8L303.6,208.5L303.8,210 M304.6,215.9L304.7,216.3L304.9,217.9L305.2,219.6L305.4,221.3L305.7,222.9L305.9,224.6L306.2,226.1" stroke="#8b008b" stroke-width="1.5"/>
<path d="M49.5,99.8L51.3,99L53.1,98.1L54.9,97.3L56.7,96.4L58.4,95.6L60.2,94.7L62,93.9L63.8,93L65.5,92.1L67.3,91.3L69.1,90.4L70.9,89.5L72.6,88.7L74.4,87.8L76.2,86.9L77.9,86L79.7,85.1L81.5,84.3L83.2,83.4L85,82.5L86.8,81.6L88.5,80.7L90.3,79.9L92,79L93.8,78.1L95.6,77.2L97.3,76.3L99.1,75.5L100.9,74.6L102.6,73.7L104.4,72.8L106.2,72L107.9,71.1L109.7,70.2L111.5,69.4L113.2,68.5L115,67.7L116.8,66.8L118.5,66L120.3,65.1L122.1,64.3L123.9,63.4L125.6,62.6L127.4,61.7L129.2,60.9L131,60.1L132.8,59.2L134.5,58.4L136.3,57.6L138.1,56.8L139.9,56L141.7,55.2L143.5,54.4L145.3,53.6L147.1,52.9L148.9,52.1L150.7,51.3L152.5,50.6L154.3,49.8L156.2,49.1L158,48.4L159.8,47.6L161.6,46.9L163.5,46.2L165.3,45.5L167.1,44.8L169,44.2L170.8,43.5L172.7,42.8L174.5,42.2L176.4,41.5L178.3,40.9L180.1,40.3L182,39.6L183.9,39L185.8,38.4L187.6,37.8L189.5,37.3L191.4,36.7L193.3,36.2L195.2,35.6L197.2,35.1L199.1,34.6L201,34.1L202.9,33.7L204.9,33.2L206.8,32.8L208.8,32.3L210.7,31.9L212.7,31.5L214.7,31.1L216.6,30.8L218.6,30.4L220.6,30.1L222.6,29.8L224.5,29.5L226.5,29.3L228.5,29L230.5,28.8L232.5,28.6L234.5,28.4L236.5,28.3L238.5,28.1L240.5,28L242.5,27.9L244.5,27.9L246.4,27.8L248.4,27.8L250.4,27.9L252.4,27.9L254.4,28L256.4,28.1L258.4,28.3L260.4,28.5L262.4,28.8L264.4,29L266.3,29.4L268.3,29.7L270.3,30.2L272.2,30.6L274.2,31.1L276.1,31.7L278.1,32.3L280,32.9L281.9,33.6L283.7,34.4L285.6,35.2L287.4,36L289.2,37L290.9,37.9L292.7,38.9L294.4,40L296,41.1L297.6,42.3L299.2,43.5L300.8,44.8L302.3,46.1L303.8,47.4L305.2,48.8L306.6,50.3L308,51.7L309.3,53.2L310.6,54.8L311.8,56.4L313,58L314.2,59.6L315.4,61.3L316.5,63L317.6,64.7L318.6,66.5L319.6,68.3L320.6,70L321.6,71.9L322.5,73.7L323.4,75.5L324.3,77.4L325.1,79.2L325.9,81.1L326.7,83L327.4,84.9L328.1,86.8L328.8,88.7L329.5,90.6L330.2,92.5L330.8,94.4L331.4,96.3L332,98.2L332.6,100.1L333.2,102.1L333.7,104L334.2,105.9L334.8,107.8L335.3,109.7L335.8,111.7L336.3,113.6L336.7,115.5L337.2,117.4L337.7,119.4L338.1,121.3L338.6,123.2L339,125.2L339.5,127.1L339.9,129L340.3,130.9L340.7,132.9L341.1,134.8L341.5,136.7L341.9,138.7L342.2,140.6L342.6,142.5L342.9,144.5L343.3,146.4L343.6,148.4L343.9,150.3L344.2,152.3L344.5,154.2L344.8,156.1L345.1,158.1L345.4,160L345.6,162L345.9,164L346.1,165.9L346.3,167.9L346.5,169.8L346.8,171.8L347,173.7L347.2,175.7L347.4,177.6L347.6,179.6L347.8,181.6L348,183.5L348.2,185.5L348.4,187.4L348.6,189.4L348.8,191.4L349,193.3L349.2,195.3L349.4,197.3L349.5,199.2L349.7,201.2L349.9,203.2L350,205.1L350.2,207.1L350.4,209.1L350.5,211L350.7,213L350.9,215L351,217L351.2,218.9L351.3,220.9L351.5,222.9L351.6,224.9L351.8,226.8L351.8,226.8" stroke="#8b008b" stroke-width="1.5"/>
<path d="M50,100.8L51.8,100L53.6,99.1L55.4,98.3L57.1,97.4L58.9,96.6L60.7,95.7L62.5,94.9L64.3,94L66,93.1L67.8,92.3L69.6,91.4L71.3,90.5L73.1,89.6L74.9,88.8L76.7,87.9L78.4,87L80.2,86.1L82,85.3L83.7,84.4L85.5,83.5L87.2,82.6L89,81.7L90.8,80.9L92.5,80L94.3,79.1L96.1,78.2L97.8,77.4L99.6,76.5L101.4,75.6L103.1,74.7L104.9,73.9L106.7,73L108.4,72.1L110.2,71.3L112,70.4L113.7,69.6L115.5,68.7L117.3,67.9L119.1,67L120.8,66.2L122.6,65.4L124.4,64.5L126.2,63.7L128,62.9L129.7,62.1L131.5,61.3L133.3,60.5L135.1,59.7L136.9,58.9L138.7,58.1L140.5,57.4L142.3,56.6L144.1,55.8L145.9,55.1L147.7,54.3L149.5,53.6L151.3,52.8L153.1,52.1L155,51.4L156.8,50.7L158.6,50L160.4,49.3L162.3,48.6L164.1,47.9L165.9,47.2L167.8,46.6L169.6,45.9L171.5,45.3L173.3,44.7L175.2,44L177,43.4L178.9,42.8L180.8,42.3L182.6,41.7L184.5,41.1L186.4,40.6L188.3,40L190.2,39.5L192.1,39L194,38.5L195.9,38L197.8,37.5L199.7,37L201.6,36.5L203.5,36.1L205.4,35.6L207.4,35.2L209.3,34.8L211.2,34.4L213.2,34L215.1,33.6L217.1,33.2L219,32.9L221,32.6L222.9,32.3L224.9,32L226.8,31.7L228.8,31.5L230.8,31.3L232.7,31.1L234.7,31L236.6,30.8L238.6,30.8L240.6,30.7L242.5,30.7L244.5,30.7L246.4,30.8L248.4,30.9L250.3,31L252.2,31.1L254.2,31.3L256.1,31.5L258,31.8L259.9,32.1L261.8,32.4L263.7,32.8L265.6,33.2L267.4,33.6L269.3,34.1L271.2,34.6L273,35.2L274.8,35.8L276.6,36.4L278.4,37.1L280.1,37.8L281.9,38.6L283.6,39.4L285.2,40.3L286.9,41.2L288.5,42.1L290,43.1L291.5,44.2L293,45.3L294.5,46.4L295.9,47.6L297.2,48.8L298.6,50.1L299.9,51.4L301.1,52.7L302.4,54.1L303.6,55.5L304.8,57L305.9,58.4L307.1,60L308.2,61.5L309.3,63.1L310.3,64.6L311.3,66.3L312.3,67.9L313.3,69.6L314.3,71.3L315.2,73L316.1,74.7L317,76.4L317.8,78.2L318.6,80L319.5,81.7L320.3,83.5L321.1,85.3L321.8,87.1L322.6,88.9L323.3,90.7L324,92.6L324.7,94.4L325.4,96.2L326,98.1L326.7,99.9L327.3,101.8L327.9,103.7L328.5,105.5L329,107.4L329.6,109.3L330.1,111.2L330.7,113L331.2,114.9L331.7,116.8L332.2,118.7L332.6,120.6L333.1,122.5L333.5,124.4L334,126.3L334.4,128.2L334.8,130.1L335.2,132L335.6,133.9L335.9,135.8L336.3,137.7L336.6,139.7L337,141.6L337.3,143.5L337.7,145.4L338,147.3L338.3,149.2L338.6,151.2L338.9,153.1L339.2,155L339.5,156.9L339.8,158.9L340.1,160.8L340.4,162.7L340.6,164.6L340.9,166.6L341.2,168.5L341.5,170.4L341.7,172.4L342,174.3L342.2,176.3L342.4,178.2L342.6,180.1L342.9,182.1L343.1,184L343.3,186L343.5,187.9L343.6,189.9L343.8,191.8L344,193.8L344.2,195.8L344.4,197.7L344.6,199.7L344.7,201.6L344.9,203.6L345.1,205.6L345.2,207.5L345.4,209.5L345.6,211.5L345.7,213.4L345.9,215.4L346,217.4L346.2,219.3L346.3,221.3L346.5,223.3L346.7,225.3L346.8,227.2L346.8,227.2" stroke="#8b008b" stroke-width="1.5"/>
</g>
<g fill="none" stroke-linecap="butt">
<path d="M49.8,325L52,325L54.3,324.9L56.5,324.9L58.8,324.8L61,324.8L63.3,324.7L65.5,324.7L67.8,324.6L70,324.6L72.3,324.5L74.5,324.5L76.8,324.4L79,324.4L81.3,324.3L83.5,324.3L85.8,324.2L88,324.2L90.3,324.1L92.5,324.1L94.7,324.1L97,324L99.2,324L101.5,323.9L103.7,323.9L106,323.8L108.2,323.8L110.5,323.7L112.7,323.7L115,323.7L117.2,323.6L119.5,323.6L121.7,323.5L124,323.5L126.2,323.4L128.5,323.4L130.7,323.4L133,323.3L135.2,323.3L137.5,323.2L139.7,323.2L141.9,323.2L144.2,323.1L146.4,323.1L148.7,323L150.9,323L153.2,323L155.4,322.9L157.7,322.9L159.9,322.9L162.2,322.8L164.4,322.8L166.7,322.7L168.9,322.7L171.2,322.7L173.4,322.6L175.7,322.6L177.9,322.6L180.2,322.5L182.4,322.5" stroke="#b0a70c" stroke-width="2.0"/>
<path d="M49.8,318.7L52.8,318.6L55.8,318.5L58.9,318.3L61.9,318.2L64.9,318.1L67.9,318L70.9,317.8L74,317.7L77,317.6L80,317.4L83,317.3L86,317.2L89.1,317L92.1,316.9L95.1,316.8L98.1,316.6L101.1,316.5L104.2,316.4L107.2,316.2L110.2,316.1L113.2,315.9L116.2,315.8L119.3,315.6L122.3,315.5L125.3,315.4L128.3,315.2L131.3,315.1L134.4,314.9L137.4,314.8L140.4,314.6L143.4,314.5L146.5,314.3L149.5,314.2L152.5,314L155.5,313.8L158.5,313.7L161.6,313.5L164.6,313.4L167.6,313.2L170.6,313.1L173.6,312.9L176.7,312.7L179.7,312.6L182.7,312.4L185.7,312.2L188.7,312.1L191.8,311.9L194.8,311.8L197.8,311.6L200.8,311.4L203.8,311.2L206.9,311.1L209.9,310.9L212.9,310.7L215.9,310.6L218.9,310.4L222,310.2L225,310L228,309.9" stroke="#10b010" stroke-width="2.0"/>
<path d="M49.8,308.6L53.8,308.3L57.8,308L61.8,307.7L65.8,307.3L69.7,307L73.7,306.7L77.7,306.4L81.7,306.1L85.7,305.8L89.7,305.4L93.7,305.1L97.7,304.8L101.7,304.5L105.7,304.2L109.6,303.9L113.6,303.5L117.6,303.2L121.6,302.9L125.6,302.6L129.6,302.3L133.6,301.9L137.6,301.6L141.6,301.3L145.6,301L149.5,300.7L153.5,300.3L157.5,300L161.5,299.7L165.5,299.4L169.5,299L173.5,298.7L177.5,298.4L181.5,298.1L185.5,297.7L189.4,297.4L193.4,297.1L197.4,296.8L201.4,296.5L205.4,296.1L209.4,295.8L213.4,295.5L217.4,295.1L221.4,294.8L225.4,294.5L229.3,294.2L233.3,293.8L237.3,293.5L241.3,293.2L245.3,292.9L249.3,292.5L253.3,292.2L257.3,291.9L261.3,291.5L265.3,291.2L269.2,290.9L273.2,290.6L277.2,290.2L281.2,289.9L285.2,289.6" stroke="#1010aa" stroke-width="2.0"/>
<path d="M49.8,289.1L55,288.5L60.2,287.9L65.3,287.4L70.5,286.8L75.7,286.2L80.9,285.6L86.1,285L91.2,284.4L96.4,283.8L101.6,283.1L106.8,282.5L112,281.9L117.1,281.3L122.3,280.6L127.5,280L132.7,279.3L137.9,278.7L143,278L148.2,277.4L153.4,276.7L158.6,276L163.8,275.3L168.9,274.7L174.1,274L179.3,273.3L184.5,272.6L189.7,271.9L194.8,271.2L200,270.5L205.2,269.8L210.4,269L215.5,268.3L220.7,267.6L225.9,266.8L231.1,266.1L236.3,265.4L241.4,264.6L246.6,263.8L251.8,263.1L257,262.3L262.2,261.6L267.3,260.8L272.5,260L277.7,259.2L282.9,258.4L288.1,257.6L293.2,256.8L298.4,256L303.6,255.2L308.8,254.4L314,253.6L319.1,252.8L324.3,251.9L329.5,251.1L334.7,250.2L339.9,249.4L345,248.6L350.2,247.7L355.4,246.8" stroke="#8b008b" stroke-width="2.0"/>
</g>
<path d="M65.71,7.7 v2.4 M65.71,222.4 v-2.4 M65.71,222.4 v2.4 M65.71,329.2 v-2.4 M79.16,7.7 v2.4 M79.16,222.4 v-2.4 M79.16,222.4 v2.4 M79.16,329.2 v-2.4 M90.81,7.7 v2.4 M90.81,222.4 v-2.4 M90.81,222.4 v2.4 M90.81,329.2 v-2.4 M101.09,7.7 v2.4 M101.09,222.4 v-2.4 M101.09,222.4 v2.4 M101.09,329.2 v-2.4 M170.77,7.7 v2.4 M170.77,222.4 v-2.4 M170.77,222.4 v2.4 M170.77,329.2 v-2.4 M206.15,7.7 v2.4 M206.15,222.4 v-2.4 M206.15,222.4 v2.4 M206.15,329.2 v-2.4 M231.26,7.7 v2.4 M231.26,222.4 v-2.4 M231.26,222.4 v2.4 M231.26,329.2 v-2.4 M250.73,7.7 v2.4 M250.73,222.4 v-2.4 M250.73,222.4 v2.4 M250.73,329.2 v-2.4 M266.64,7.7 v2.4 M266.64,222.4 v-2.4 M266.64,222.4 v2.4 M266.64,329.2 v-2.4 M280.09,7.7 v2.4 M280.09,222.4 v-2.4 M280.09,222.4 v2.4 M280.09,329.2 v-2.4 M291.74,7.7 v2.4 M291.74,222.4 v-2.4 M291.74,222.4 v2.4 M291.74,329.2 v-2.4 M302.02,7.7 v2.4 M302.02,222.4 v-2.4 M302.02,222.4 v2.4 M302.02,329.2 v-2.4 M110.29,7.7 v4 M110.29,222.4 v-4 M110.29,222.4 v4 M110.29,329.2 v-4 M311.21,7.7 v4 M311.21,222.4 v-4 M311.21,222.4 v4 M311.21,329.2 v-4 M49.8,178.65 h2.4 M371.7,178.65 h-2.4 M49.8,153.05 h2.4 M371.7,153.05 h-2.4 M49.8,134.89 h2.4 M371.7,134.89 h-2.4 M49.8,120.8 h2.4 M371.7,120.8 h-2.4 M49.8,109.3 h2.4 M371.7,109.3 h-2.4 M49.8,99.56 h2.4 M371.7,99.56 h-2.4 M49.8,91.14 h2.4 M371.7,91.14 h-2.4 M49.8,83.7 h2.4 M371.7,83.7 h-2.4 M49.8,77.05 h4 M371.7,77.05 h-4 M49.8,33.29 h2.4 M371.7,33.29 h-2.4 M49.8,323.86 h2.4 M371.7,323.86 h-2.4 M49.8,318.52 h2.4 M371.7,318.52 h-2.4 M49.8,313.18 h2.4 M371.7,313.18 h-2.4 M49.8,307.84 h2.4 M371.7,307.84 h-2.4 M49.8,302.5 h4 M371.7,302.5 h-4 M49.8,297.16 h2.4 M371.7,297.16 h-2.4 M49.8,291.82 h2.4 M371.7,291.82 h-2.4 M49.8,286.48 h2.4 M371.7,286.48 h-2.4 M49.8,281.14 h2.4 M371.7,281.14 h-2.4 M49.8,275.8 h4 M371.7,275.8 h-4 M49.8,270.46 h2.4 M371.7,270.46 h-2.4 M49.8,265.12 h2.4 M371.7,265.12 h-2.4 M49.8,259.78 h2.4 M371.7,259.78 h-2.4 M49.8,254.44 h2.4 M371.7,254.44 h-2.4 M49.8,249.1 h4 M371.7,249.1 h-4 M49.8,243.76 h2.4 M371.7,243.76 h-2.4 M49.8,238.42 h2.4 M371.7,238.42 h-2.4 M49.8,233.08 h2.4 M371.7,233.08 h-2.4 M49.8,227.74 h2.4 M371.7,227.74 h-2.4" stroke="#222" stroke-width="0.6" fill="none"/>
<path d="M49.8,7.7 H371.7 V329.2 H49.8 Z" stroke="#555" stroke-width="1.0" fill="none"/>
<path d="M49.8,222.4 H371.7" stroke="#111" stroke-width="1.1" fill="none"/>
<g transform="translate(260.9,22.6) scale(1.16,1)"><text fill="#8b008b" stroke="#8b008b" stroke-width="0.1" font-weight="bold" font-size="12"><tspan font-style="italic">α</tspan><tspan font-style="italic" font-size="8.6" dx="0.3" dy="2.2">h</tspan><tspan dy="-0.2" dx="0.1">=</tspan><tspan dy="-2.0">0.2</tspan></text></g>
<g transform="translate(170.5,72.5) scale(1.16,1)"><text fill="#1010aa" stroke="#1010aa" stroke-width="0.1" font-weight="bold" font-size="12"><tspan font-style="italic">α</tspan><tspan font-style="italic" font-size="8.6" dx="0.3" dy="2.2">h</tspan><tspan dy="-0.2" dx="0.1">=</tspan><tspan dy="-2.0">0.1</tspan></text></g>
<g transform="translate(123.0,109.7) scale(1.16,1)"><text fill="#10b010" stroke="#10b010" stroke-width="0.1" font-weight="bold" font-size="12"><tspan font-style="italic">α</tspan><tspan font-style="italic" font-size="8.6" dx="0.3" dy="2.2">h</tspan><tspan dy="-0.2" dx="0.1">=</tspan><tspan dy="-2.0">0.05</tspan></text></g>
<g transform="translate(65.9,173.8) scale(1.16,1)"><text fill="#b0a70c" stroke="#b0a70c" stroke-width="0.1" font-weight="bold" font-size="12"><tspan font-style="italic">α</tspan><tspan font-style="italic" font-size="8.6" dx="0.3" dy="2.2">h</tspan><tspan dy="-0.2" dx="0.1">=</tspan><tspan dy="-2.0">0.02</tspan></text></g>
<g transform="translate(327.7,241.7) scale(1.16,1)"><text fill="#8b008b" stroke="#8b008b" stroke-width="0.1" font-weight="bold" font-size="12"><tspan font-style="italic">α</tspan><tspan font-style="italic" font-size="8.6" dx="0.3" dy="2.2">h</tspan><tspan dy="-0.2" dx="0.1">=</tspan><tspan dy="-2.0">0.2</tspan></text></g>
<g transform="translate(293.2,292.1) scale(1.16,1)"><text fill="#1010aa" stroke="#1010aa" stroke-width="0.1" font-weight="bold" font-size="12"><tspan font-style="italic">α</tspan><tspan font-style="italic" font-size="8.6" dx="0.3" dy="2.2">h</tspan><tspan dy="-0.2" dx="0.1">=</tspan><tspan dy="-2.0">0.1</tspan></text></g>
<g transform="translate(232.0,311.8) scale(1.16,1)"><text fill="#10b010" stroke="#10b010" stroke-width="0.1" font-weight="bold" font-size="12"><tspan font-style="italic">α</tspan><tspan font-style="italic" font-size="8.6" dx="0.3" dy="2.2">h</tspan><tspan dy="-0.2" dx="0.1">=</tspan><tspan dy="-2.0">0.05</tspan></text></g>
<g transform="translate(187.1,325.0) scale(1.16,1)"><text fill="#b0a70c" stroke="#b0a70c" stroke-width="0.1" font-weight="bold" font-size="12"><tspan font-style="italic">α</tspan><tspan font-style="italic" font-size="8.6" dx="0.3" dy="2.2">h</tspan><tspan dy="-0.2" dx="0.1">=</tspan><tspan dy="-2.0">0.02</tspan></text></g>
<g fill="#111" font-size="11.8">
<text x="31.2" y="75.9">10<tspan font-size="8.8" dy="-4.2" dx="-0.1">2</tspan></text>
<text x="45.3" y="221.3" text-anchor="end">10</text>
<text x="47.6" y="253.2" text-anchor="end">1.5</text>
<text x="47.6" y="279.9" text-anchor="end">1.0</text>
<text x="47.6" y="306.6" text-anchor="end">0.5</text>
<text x="47.6" y="334" text-anchor="end">0</text>
<text x="111.6" y="342" text-anchor="middle">1</text>
<text x="311.6" y="342" text-anchor="middle">10</text>
</g>
<g fill="#111" font-size="12.3">
<g transform="translate(24.3,142.2) rotate(-90)"><text font-size="13">Δ</text><text transform="translate(9.4,0) scale(1.25,1)" font-style="italic">m</text><text x="24.2">[GeV]</text></g>
<g transform="translate(25.2,300.3) rotate(-90)"><text font-size="13"><tspan font-style="italic">δ</tspan>Ω /<tspan dx="3.8">Ω</tspan><tspan font-size="9" dy="2.5" dx="-0.3">DM</tspan></text></g>
<text transform="translate(184.2,360.6) scale(1.25,1)" font-style="italic">m</text>
<text transform="translate(194.9,363.3) scale(1.2,1)" font-style="italic" font-size="9">χ</text>
<text x="209.2" y="360.6" font-size="12.5">[TeV]</text>
</g>
</svg>
</body></html>
